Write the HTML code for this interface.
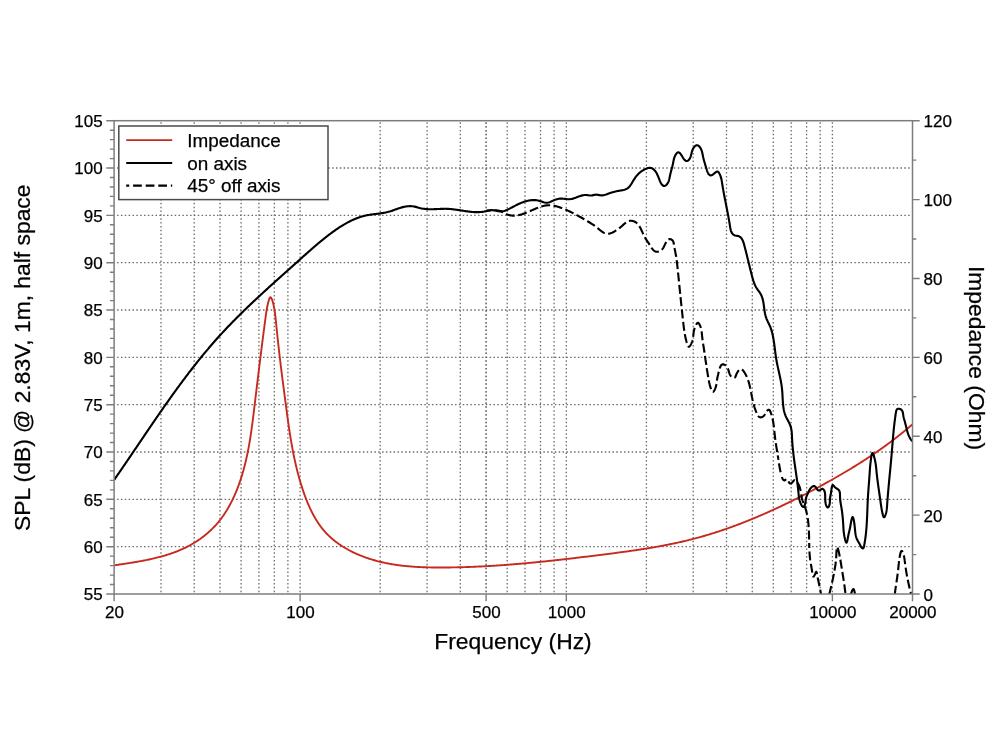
<!DOCTYPE html>
<html><head><meta charset="utf-8"><title>Frequency response</title>
<style>html,body{margin:0;padding:0;background:#fff;}svg{display:block;will-change:transform;}</style></head>
<body>
<svg width="1000" height="750" viewBox="0 0 1000 750">
<defs><clipPath id="c"><rect x="114.1" y="120.7" width="798.4" height="473.3"/></clipPath></defs>
<rect width="1000" height="750" fill="#fff"/>
<path d="M161.0 122.2 V593.0 M194.2 122.2 V593.0 M220.0 122.2 V593.0 M241.1 122.2 V593.0 M258.9 122.2 V593.0 M274.3 122.2 V593.0 M287.9 122.2 V593.0 M300.1 122.2 V593.0 M380.2 122.2 V593.0 M427.1 122.2 V593.0 M460.3 122.2 V593.0 M486.1 122.2 V593.0 M507.2 122.2 V593.0 M525.0 122.2 V593.0 M540.5 122.2 V593.0 M554.1 122.2 V593.0 M566.3 122.2 V593.0 M646.4 122.2 V593.0 M693.2 122.2 V593.0 M726.5 122.2 V593.0 M752.3 122.2 V593.0 M773.3 122.2 V593.0 M791.2 122.2 V593.0 M806.6 122.2 V593.0 M820.2 122.2 V593.0 M832.4 122.2 V593.0 M117.1 546.7 H910.5 M117.1 499.3 H910.5 M117.1 452.0 H910.5 M117.1 404.7 H910.5 M117.1 357.4 H910.5 M117.1 310.0 H910.5 M117.1 262.7 H910.5 M117.1 215.4 H910.5 M117.1 168.0 H910.5" fill="none" stroke="#6c6c6c" stroke-width="1.3" stroke-dasharray="1.5 2.34"/>
<path d="M486.1 122.2 V593.0" fill="none" stroke="#6c6c6c" stroke-width="1.3" stroke-dasharray="1.5 2.34" opacity="0.8"/>
<g clip-path="url(#c)" fill="none" stroke-linejoin="round" stroke-linecap="butt">
<path d="M114.60 565.26 115.56 565.12 116.52 564.98 117.48 564.84 118.45 564.70 119.41 564.55 120.38 564.41 121.35 564.27 122.32 564.12 123.30 563.98 124.27 563.83 125.25 563.68 126.22 563.53 127.20 563.38 128.18 563.23 129.17 563.08 130.15 562.92 131.13 562.77 132.12 562.61 133.10 562.45 134.09 562.28 135.08 562.12 136.06 561.95 137.05 561.78 138.04 561.61 139.03 561.43 140.02 561.25 141.00 561.07 141.99 560.89 142.98 560.70 143.97 560.51 144.96 560.32 145.95 560.12 146.94 559.92 147.92 559.72 148.91 559.51 149.90 559.30 150.88 559.08 151.87 558.86 152.85 558.64 153.83 558.41 154.81 558.18 155.79 557.94 156.77 557.70 157.75 557.45 158.73 557.20 159.70 556.95 160.67 556.69 161.64 556.42 162.61 556.15 163.58 555.87 164.55 555.59 165.51 555.30 166.47 555.01 167.43 554.71 168.39 554.40 169.34 554.09 170.29 553.78 171.24 553.45 172.19 553.12 173.13 552.79 174.07 552.44 175.01 552.09 175.94 551.74 176.87 551.38 177.80 551.01 178.73 550.63 179.65 550.24 180.57 549.85 181.48 549.45 182.39 549.05 183.30 548.63 184.20 548.21 185.10 547.78 186.00 547.34 186.89 546.90 187.78 546.44 188.66 545.98 189.54 545.51 190.41 545.03 191.28 544.55 192.14 544.05 193.00 543.55 193.86 543.04 194.71 542.52 195.55 541.99 196.39 541.45 197.23 540.91 198.06 540.36 198.88 539.80 199.70 539.23 200.51 538.66 201.31 538.07 202.11 537.48 202.91 536.88 203.70 536.27 204.48 535.66 205.25 535.04 206.02 534.41 206.78 533.77 207.54 533.12 208.29 532.47 209.03 531.81 209.76 531.14 210.49 530.47 211.21 529.78 211.92 529.09 212.63 528.39 213.33 527.69 214.02 526.97 214.70 526.25 215.37 525.52 216.04 524.79 216.70 524.05 217.35 523.30 217.99 522.54 218.62 521.78 219.25 521.00 219.87 520.23 220.48 519.44 221.08 518.65 221.68 517.85 222.26 517.05 222.84 516.24 223.41 515.42 223.98 514.60 224.53 513.77 225.08 512.94 225.62 512.10 226.16 511.26 226.68 510.41 227.20 509.55 227.72 508.69 228.22 507.83 228.72 506.96 229.21 506.08 229.70 505.20 230.18 504.32 230.65 503.43 231.11 502.54 231.57 501.65 232.02 500.75 232.46 499.84 232.90 498.94 233.33 498.03 233.76 497.11 234.18 496.20 234.59 495.28 235.00 494.35 235.40 493.43 235.79 492.50 236.18 491.56 236.56 490.63 236.94 489.69 237.31 488.76 237.68 487.81 238.04 486.87 238.39 485.93 238.74 484.98 239.08 484.03 239.42 483.08 239.75 482.13 240.08 481.18 240.40 480.22 240.71 479.27 241.02 478.31 241.33 477.36 241.63 476.40 241.93 475.44 242.22 474.48 242.50 473.52 242.79 472.56 243.06 471.60 243.33 470.64 243.60 469.68 243.86 468.72 244.12 467.75 244.38 466.79 244.63 465.82 244.87 464.85 245.12 463.89 245.35 462.92 245.59 461.95 245.82 460.98 246.04 460.01 246.26 459.04 246.48 458.07 246.70 457.10 246.91 456.13 247.12 455.16 247.32 454.18 247.52 453.21 247.72 452.23 247.91 451.26 248.10 450.28 248.29 449.31 248.48 448.33 248.66 447.35 248.84 446.37 249.01 445.40 249.19 444.42 249.36 443.44 249.53 442.46 249.69 441.48 249.86 440.50 250.02 439.52 250.17 438.53 250.33 437.55 250.48 436.57 250.64 435.59 250.79 434.60 250.93 433.62 251.08 432.63 251.22 431.65 251.36 430.66 251.50 429.68 251.64 428.69 251.78 427.71 251.92 426.72 252.05 425.73 252.18 424.75 252.31 423.76 252.44 422.77 252.57 421.78 252.70 420.80 252.83 419.81 252.95 418.82 253.08 417.83 253.20 416.84 253.32 415.85 253.44 414.86 253.57 413.87 253.69 412.88 253.81 411.89 253.93 410.90 254.05 409.91 254.17 408.92 254.29 407.92 254.40 406.93 254.52 405.94 254.64 404.95 254.76 403.96 254.88 402.97 255.00 401.97 255.12 400.98 255.24 399.99 255.36 399.00 255.47 398.00 255.59 397.01 255.71 396.02 255.83 395.03 255.95 394.03 256.07 393.04 256.19 392.05 256.31 391.05 256.43 390.06 256.55 389.07 256.67 388.07 256.79 387.08 256.91 386.09 257.03 385.09 257.15 384.10 257.27 383.11 257.39 382.11 257.51 381.12 257.63 380.13 257.75 379.13 257.87 378.14 258.00 377.14 258.12 376.15 258.24 375.16 258.36 374.16 258.48 373.17 258.60 372.18 258.72 371.18 258.85 370.19 258.97 369.20 259.09 368.20 259.21 367.21 259.34 366.21 259.46 365.22 259.58 364.23 259.70 363.23 259.83 362.24 259.95 361.25 260.07 360.25 260.20 359.26 260.32 358.27 260.44 357.27 260.57 356.28 260.69 355.29 260.82 354.30 260.94 353.30 261.06 352.31 261.19 351.32 261.31 350.33 261.44 349.33 261.56 348.34 261.69 347.35 261.81 346.36 261.94 345.36 262.07 344.37 262.19 343.38 262.32 342.39 262.44 341.40 262.57 340.41 262.70 339.42 262.83 338.42 262.95 337.43 263.08 336.44 263.21 335.45 263.33 334.46 263.46 333.47 263.59 332.48 263.72 331.49 263.85 330.50 263.98 329.51 264.11 328.52 264.23 327.54 264.36 326.55 264.49 325.56 264.62 324.57 264.75 323.58 264.88 322.59 265.01 321.61 265.15 320.62 265.28 319.63 265.41 318.64 265.54 317.66 265.67 316.67 265.80 315.68 265.94 314.70 266.08 313.71 266.23 312.72 266.38 311.74 266.53 310.75 266.70 309.76 266.87 308.77 267.06 307.77 267.25 306.78 267.46 305.79 267.68 304.79 267.91 303.79 268.16 302.79 268.42 301.79 268.71 300.78 269.01 299.77 269.33 298.79 269.67 297.94 270.05 297.36 270.46 297.19 270.90 297.49 271.36 298.14 271.79 299.03 272.19 300.01 272.53 301.02 272.83 302.03 273.10 303.06 273.34 304.08 273.57 305.09 273.78 306.11 273.99 307.12 274.18 308.12 274.36 309.12 274.52 310.12 274.68 311.12 274.83 312.11 274.97 313.11 275.11 314.10 275.23 315.08 275.35 316.07 275.47 317.05 275.58 318.04 275.68 319.02 275.79 320.00 275.88 320.98 275.98 321.96 276.08 322.94 276.17 323.92 276.27 324.90 276.37 325.88 276.46 326.87 276.56 327.85 276.66 328.83 276.76 329.82 276.86 330.80 276.96 331.79 277.06 332.77 277.16 333.76 277.27 334.75 277.37 335.73 277.48 336.72 277.58 337.71 277.69 338.70 277.79 339.69 277.90 340.68 278.01 341.67 278.12 342.66 278.23 343.65 278.34 344.64 278.45 345.63 278.56 346.63 278.67 347.62 278.79 348.61 278.90 349.61 279.01 350.60 279.13 351.59 279.24 352.59 279.36 353.58 279.48 354.58 279.59 355.57 279.71 356.57 279.83 357.56 279.95 358.56 280.07 359.56 280.19 360.55 280.30 361.55 280.43 362.54 280.55 363.54 280.67 364.54 280.79 365.54 280.91 366.53 281.03 367.53 281.16 368.53 281.28 369.53 281.40 370.52 281.53 371.52 281.65 372.52 281.78 373.52 281.90 374.51 282.03 375.51 282.15 376.51 282.28 377.51 282.41 378.51 282.53 379.50 282.66 380.50 282.79 381.50 282.92 382.50 283.04 383.49 283.17 384.49 283.30 385.49 283.43 386.49 283.56 387.48 283.69 388.48 283.82 389.48 283.95 390.47 284.08 391.47 284.21 392.47 284.34 393.46 284.47 394.46 284.60 395.45 284.73 396.45 284.86 397.44 284.99 398.44 285.12 399.43 285.25 400.43 285.38 401.42 285.51 402.41 285.65 403.41 285.78 404.40 285.91 405.39 286.04 406.38 286.17 407.37 286.30 408.37 286.43 409.36 286.57 410.35 286.70 411.34 286.83 412.33 286.97 413.32 287.10 414.31 287.23 415.29 287.37 416.28 287.50 417.27 287.64 418.26 287.78 419.25 287.91 420.23 288.05 421.22 288.19 422.20 288.33 423.19 288.47 424.17 288.62 425.16 288.76 426.14 288.90 427.13 289.05 428.11 289.19 429.10 289.34 430.08 289.49 431.06 289.64 432.04 289.79 433.02 289.95 434.01 290.10 434.99 290.26 435.97 290.42 436.95 290.58 437.93 290.74 438.91 290.90 439.89 291.06 440.86 291.23 441.84 291.40 442.82 291.57 443.80 291.74 444.77 291.92 445.75 292.09 446.73 292.27 447.70 292.45 448.68 292.63 449.65 292.82 450.63 293.01 451.60 293.20 452.58 293.39 453.55 293.58 454.52 293.78 455.50 293.98 456.47 294.18 457.44 294.39 458.41 294.59 459.38 294.80 460.35 295.02 461.32 295.23 462.29 295.45 463.26 295.67 464.23 295.90 465.20 296.13 466.17 296.36 467.13 296.59 468.10 296.83 469.07 297.07 470.04 297.31 471.00 297.56 471.97 297.81 472.93 298.06 473.90 298.32 474.86 298.58 475.83 298.85 476.79 299.11 477.75 299.38 478.71 299.66 479.68 299.94 480.64 300.22 481.60 300.51 482.56 300.80 483.52 301.09 484.48 301.39 485.44 301.69 486.40 302.00 487.36 302.31 488.32 302.63 489.28 302.95 490.23 303.27 491.19 303.60 492.15 303.93 493.10 304.27 494.06 304.61 495.01 304.96 495.96 305.31 496.91 305.66 497.86 306.03 498.81 306.39 499.76 306.77 500.70 307.15 501.64 307.53 502.58 307.92 503.51 308.32 504.44 308.72 505.37 309.13 506.30 309.54 507.22 309.96 508.14 310.39 509.05 310.82 509.96 311.26 510.87 311.71 511.77 312.17 512.67 312.63 513.56 313.10 514.45 313.58 515.33 314.06 516.21 314.55 517.08 315.05 517.94 315.56 518.80 316.07 519.66 316.60 520.50 317.13 521.35 317.67 522.18 318.22 523.01 318.77 523.83 319.34 524.64 319.92 525.45 320.50 526.25 321.09 527.04 321.69 527.82 322.30 528.59 322.92 529.36 323.55 530.12 324.19 530.87 324.84 531.61 325.50 532.34 326.17 533.06 326.85 533.78 327.54 534.48 328.24 535.18 328.94 535.86 329.66 536.54 330.38 537.21 331.12 537.87 331.86 538.52 332.61 539.16 333.37 539.80 334.13 540.42 334.91 541.04 335.69 541.65 336.48 542.25 337.28 542.84 338.08 543.42 338.89 544.00 339.71 544.56 340.54 545.12 341.37 545.67 342.21 546.21 343.05 546.75 343.90 547.27 344.76 547.79 345.62 548.30 346.49 548.80 347.36 549.29 348.24 549.77 349.13 550.25 350.01 550.72 350.91 551.18 351.81 551.63 352.71 552.08 353.62 552.52 354.53 552.95 355.44 553.37 356.36 553.78 357.28 554.19 358.21 554.59 359.14 554.98 360.07 555.37 361.01 555.74 361.95 556.11 362.89 556.48 363.83 556.83 364.78 557.18 365.73 557.52 366.68 557.85 367.63 558.18 368.58 558.50 369.54 558.81 370.50 559.11 371.45 559.41 372.41 559.70 373.37 559.99 374.34 560.26 375.30 560.53 376.26 560.80 377.23 561.06 378.20 561.31 379.16 561.55 380.13 561.79 381.10 562.02 382.07 562.25 383.05 562.47 384.02 562.68 384.99 562.89 385.97 563.09 386.95 563.29 387.92 563.48 388.90 563.66 389.88 563.84 390.86 564.02 391.84 564.19 392.82 564.35 393.81 564.51 394.79 564.66 395.77 564.81 396.76 564.95 397.74 565.09 398.73 565.22 399.72 565.35 400.71 565.48 401.70 565.60 402.68 565.71 403.67 565.82 404.67 565.93 405.66 566.03 406.65 566.13 407.64 566.22 408.63 566.31 409.63 566.39 410.62 566.48 411.62 566.55 412.61 566.63 413.61 566.70 414.60 566.77 415.60 566.83 416.60 566.89 417.59 566.94 418.59 567.00 419.59 567.05 420.59 567.10 421.59 567.14 422.59 567.18 423.58 567.22 424.58 567.25 425.58 567.29 426.58 567.32 427.58 567.34 428.58 567.37 429.59 567.39 430.59 567.41 431.59 567.43 432.59 567.44 433.59 567.46 434.59 567.47 435.59 567.48 436.59 567.49 437.59 567.49 438.59 567.50 439.59 567.50 440.60 567.50 441.60 567.50 442.60 567.50 443.60 567.49 444.60 567.49 445.60 567.48 446.60 567.48 447.60 567.47 448.60 567.46 449.60 567.45 450.60 567.43 451.60 567.42 452.60 567.40 453.60 567.39 454.60 567.37 455.60 567.35 456.60 567.33 457.60 567.31 458.60 567.29 459.60 567.26 460.60 567.24 461.60 567.21 462.60 567.18 463.60 567.15 464.59 567.12 465.59 567.09 466.59 567.06 467.59 567.02 468.59 566.99 469.59 566.95 470.59 566.92 471.58 566.88 472.58 566.84 473.58 566.80 474.58 566.75 475.58 566.71 476.58 566.67 477.57 566.62 478.57 566.57 479.57 566.53 480.57 566.48 481.56 566.43 482.56 566.38 483.56 566.33 484.56 566.27 485.55 566.22 486.55 566.16 487.55 566.11 488.55 566.05 489.54 565.99 490.54 565.93 491.54 565.87 492.53 565.81 493.53 565.75 494.53 565.69 495.52 565.62 496.52 565.56 497.52 565.49 498.51 565.42 499.51 565.36 500.51 565.29 501.50 565.22 502.50 565.15 503.50 565.08 504.49 565.00 505.49 564.93 506.48 564.86 507.48 564.78 508.48 564.70 509.47 564.63 510.47 564.55 511.46 564.47 512.46 564.39 513.45 564.31 514.45 564.23 515.44 564.15 516.44 564.06 517.44 563.98 518.43 563.90 519.43 563.81 520.42 563.73 521.42 563.64 522.41 563.55 523.41 563.46 524.40 563.37 525.40 563.28 526.39 563.19 527.39 563.10 528.38 563.01 529.37 562.92 530.37 562.82 531.36 562.73 532.36 562.63 533.35 562.54 534.35 562.44 535.34 562.35 536.34 562.25 537.33 562.15 538.32 562.05 539.32 561.95 540.31 561.85 541.31 561.75 542.30 561.65 543.30 561.55 544.29 561.44 545.28 561.34 546.28 561.24 547.27 561.13 548.27 561.03 549.26 560.92 550.25 560.82 551.25 560.71 552.24 560.60 553.23 560.49 554.23 560.39 555.22 560.28 556.21 560.17 557.21 560.06 558.20 559.95 559.19 559.84 560.19 559.73 561.18 559.61 562.17 559.50 563.17 559.39 564.16 559.28 565.15 559.16 566.15 559.05 567.14 558.93 568.13 558.82 569.13 558.70 570.12 558.59 571.11 558.47 572.11 558.36 573.10 558.24 574.09 558.12 575.09 558.00 576.08 557.89 577.07 557.77 578.06 557.65 579.06 557.53 580.05 557.41 581.04 557.29 582.04 557.17 583.03 557.05 584.02 556.93 585.01 556.81 586.01 556.69 587.00 556.57 587.99 556.44 588.98 556.32 589.98 556.20 590.97 556.08 591.96 555.96 592.95 555.83 593.95 555.71 594.94 555.59 595.93 555.46 596.92 555.34 597.92 555.21 598.91 555.09 599.90 554.97 600.89 554.84 601.89 554.72 602.88 554.59 603.87 554.47 604.86 554.34 605.85 554.22 606.85 554.09 607.84 553.96 608.83 553.84 609.82 553.71 610.82 553.58 611.81 553.45 612.80 553.32 613.79 553.20 614.78 553.07 615.77 552.94 616.76 552.81 617.76 552.67 618.75 552.54 619.74 552.41 620.73 552.28 621.72 552.14 622.71 552.01 623.70 551.87 624.69 551.74 625.68 551.60 626.67 551.46 627.66 551.33 628.65 551.19 629.64 551.05 630.63 550.91 631.62 550.76 632.61 550.62 633.60 550.48 634.58 550.33 635.57 550.19 636.56 550.04 637.55 549.89 638.54 549.74 639.52 549.59 640.51 549.44 641.50 549.29 642.48 549.14 643.47 548.98 644.45 548.82 645.44 548.67 646.43 548.51 647.41 548.35 648.40 548.19 649.38 548.03 650.36 547.86 651.35 547.70 652.33 547.53 653.31 547.36 654.30 547.19 655.28 547.02 656.26 546.85 657.24 546.67 658.23 546.50 659.21 546.32 660.19 546.14 661.17 545.96 662.15 545.78 663.13 545.59 664.11 545.41 665.09 545.22 666.06 545.03 667.04 544.84 668.02 544.64 669.00 544.45 669.97 544.25 670.95 544.05 671.92 543.85 672.90 543.65 673.88 543.45 674.85 543.24 675.82 543.03 676.80 542.82 677.77 542.61 678.74 542.39 679.72 542.18 680.69 541.96 681.66 541.73 682.63 541.51 683.60 541.29 684.57 541.06 685.54 540.83 686.51 540.60 687.47 540.36 688.44 540.12 689.41 539.88 690.37 539.64 691.34 539.40 692.31 539.15 693.27 538.90 694.23 538.65 695.20 538.40 696.16 538.14 697.12 537.88 698.08 537.62 699.05 537.36 700.01 537.09 700.97 536.82 701.93 536.55 702.88 536.28 703.84 536.00 704.80 535.72 705.76 535.44 706.71 535.16 707.67 534.87 708.63 534.59 709.58 534.30 710.53 534.01 711.49 533.71 712.44 533.42 713.39 533.12 714.35 532.82 715.30 532.51 716.25 532.21 717.20 531.90 718.15 531.59 719.10 531.28 720.04 530.96 720.99 530.65 721.94 530.33 722.89 530.01 723.83 529.69 724.78 529.36 725.72 529.04 726.67 528.71 727.61 528.38 728.55 528.04 729.49 527.71 730.44 527.37 731.38 527.03 732.32 526.69 733.26 526.35 734.20 526.00 735.13 525.66 736.07 525.31 737.01 524.96 737.95 524.61 738.88 524.25 739.82 523.89 740.75 523.54 741.69 523.18 742.62 522.81 743.55 522.45 744.49 522.08 745.42 521.72 746.35 521.35 747.28 520.98 748.21 520.60 749.14 520.23 750.07 519.85 751.00 519.47 751.92 519.09 752.85 518.71 753.78 518.33 754.70 517.94 755.63 517.56 756.55 517.17 757.48 516.78 758.40 516.39 759.32 515.99 760.24 515.60 761.16 515.20 762.08 514.80 763.00 514.40 763.92 514.00 764.84 513.60 765.76 513.19 766.68 512.79 767.59 512.38 768.51 511.97 769.43 511.56 770.34 511.15 771.25 510.73 772.17 510.32 773.08 509.90 773.99 509.48 774.90 509.06 775.82 508.64 776.73 508.22 777.64 507.80 778.54 507.37 779.45 506.94 780.36 506.52 781.27 506.09 782.17 505.66 783.08 505.22 783.99 504.79 784.89 504.35 785.79 503.92 786.70 503.48 787.60 503.04 788.50 502.60 789.40 502.16 790.30 501.72 791.20 501.28 792.10 500.83 793.00 500.39 793.90 499.94 794.80 499.49 795.69 499.04 796.59 498.59 797.48 498.14 798.38 497.69 799.27 497.23 800.16 496.78 801.06 496.32 801.95 495.86 802.84 495.41 803.73 494.95 804.62 494.49 805.51 494.02 806.40 493.56 807.29 493.10 808.17 492.63 809.06 492.17 809.95 491.70 810.83 491.23 811.72 490.77 812.60 490.30 813.48 489.83 814.36 489.36 815.25 488.88 816.13 488.41 817.01 487.94 817.89 487.46 818.77 486.99 819.65 486.51 820.52 486.03 821.40 485.56 822.28 485.08 823.15 484.60 824.03 484.12 824.90 483.64 825.77 483.15 826.65 482.67 827.52 482.19 828.39 481.70 829.26 481.21 830.13 480.73 831.00 480.24 831.87 479.75 832.74 479.26 833.60 478.77 834.47 478.28 835.33 477.78 836.20 477.29 837.06 476.79 837.92 476.30 838.79 475.80 839.65 475.30 840.51 474.80 841.37 474.30 842.23 473.80 843.08 473.29 843.94 472.79 844.80 472.28 845.65 471.77 846.51 471.27 847.36 470.76 848.21 470.24 849.07 469.73 849.92 469.22 850.77 468.70 851.62 468.19 852.47 467.67 853.31 467.15 854.16 466.63 855.01 466.10 855.85 465.58 856.69 465.05 857.54 464.53 858.38 464.00 859.22 463.47 860.06 462.94 860.90 462.41 861.74 461.87 862.58 461.33 863.41 460.80 864.25 460.26 865.08 459.72 865.92 459.17 866.75 458.63 867.58 458.08 868.41 457.54 869.24 456.99 870.07 456.44 870.90 455.88 871.72 455.33 872.55 454.77 873.37 454.21 874.20 453.65 875.02 453.09 875.84 452.53 876.66 451.96 877.48 451.40 878.30 450.83 879.12 450.26 879.93 449.68 880.75 449.11 881.56 448.53 882.38 447.95 883.19 447.37 884.00 446.79 884.81 446.20 885.62 445.62 886.42 445.03 887.23 444.44 888.04 443.85 888.84 443.25 889.64 442.65 890.44 442.05 891.25 441.45 892.04 440.85 892.84 440.24 893.64 439.64 894.44 439.03 895.23 438.41 896.02 437.80 896.82 437.18 897.61 436.56 898.40 435.94 899.19 435.32 899.98 434.69 900.76 434.06 901.55 433.43 902.33 432.80 903.11 432.17 903.90 431.53 904.68 430.89 905.46 430.25 906.23 429.60 907.01 428.95 907.79 428.30 908.56 427.65 909.33 427.00 910.10 426.34 910.87 425.68 911.64 425.02 912.41 424.35" stroke="#c62a1f" stroke-width="1.9"/>
<path d="M485.99 210.81 486.49 210.76 486.98 210.72 487.48 210.68 487.98 210.63 488.48 210.58 488.98 210.54 489.49 210.49 489.99 210.45 490.49 210.41 491.00 210.37 491.50 210.34 492.01 210.31 492.51 210.28 493.02 210.26 493.52 210.25 494.03 210.24 494.53 210.24 495.03 210.25 495.53 210.27 496.03 210.30 496.52 210.34 497.02 210.39 497.51 210.45 498.00 210.53 498.48 210.61 498.97 210.72 499.45 210.83 499.92 210.96 500.40 211.11 500.87 211.27 501.33 211.45 501.80 211.65 502.26 211.86 502.71 212.09 503.16 212.32 503.61 212.57 504.06 212.81 504.51 213.06 504.96 213.31 505.41 213.55 505.86 213.78 506.32 214.01 506.77 214.22 507.23 214.41 507.70 214.59 508.16 214.75 508.63 214.90 509.10 215.03 509.57 215.15 510.04 215.25 510.52 215.34 511.00 215.42 511.48 215.48 511.96 215.54 512.44 215.57 512.93 215.60 513.42 215.62 513.90 215.62 514.39 215.61 514.88 215.59 515.37 215.56 515.86 215.52 516.35 215.47 516.84 215.41 517.33 215.34 517.82 215.26 518.32 215.18 518.81 215.08 519.30 214.98 519.79 214.86 520.28 214.74 520.77 214.62 521.25 214.48 521.74 214.34 522.23 214.19 522.71 214.04 523.19 213.88 523.68 213.71 524.16 213.54 524.64 213.37 525.12 213.19 525.59 213.00 526.07 212.81 526.55 212.62 527.02 212.43 527.50 212.23 527.97 212.03 528.45 211.82 528.92 211.62 529.39 211.41 529.86 211.20 530.34 210.99 530.81 210.78 531.28 210.57 531.75 210.36 532.22 210.15 532.69 209.94 533.15 209.73 533.62 209.52 534.09 209.31 534.56 209.10 535.03 208.90 535.50 208.70 535.96 208.50 536.43 208.30 536.90 208.11 537.37 207.92 537.84 207.73 538.31 207.55 538.77 207.38 539.24 207.20 539.71 207.04 540.18 206.88 540.65 206.72 541.12 206.57 541.59 206.43 542.06 206.29 542.54 206.16 543.01 206.04 543.48 205.92 543.95 205.82 544.43 205.72 544.90 205.63 545.38 205.55 545.86 205.48 546.33 205.42 546.81 205.37 547.29 205.32 547.77 205.29 548.25 205.27 548.73 205.26 549.22 205.26 549.70 205.27 550.18 205.29 550.67 205.32 551.16 205.36 551.64 205.41 552.13 205.47 552.62 205.54 553.10 205.61 553.59 205.70 554.08 205.79 554.56 205.88 555.05 205.99 555.54 206.10 556.03 206.22 556.51 206.35 557.00 206.48 557.49 206.62 557.97 206.76 558.46 206.91 558.94 207.06 559.42 207.22 559.91 207.38 560.39 207.55 560.87 207.72 561.35 207.90 561.83 208.08 562.31 208.26 562.78 208.45 563.26 208.63 563.73 208.82 564.20 209.02 564.67 209.21 565.14 209.41 565.61 209.61 566.07 209.81 566.54 210.01 567.00 210.21 567.46 210.42 567.92 210.63 568.38 210.84 568.84 211.05 569.29 211.27 569.75 211.48 570.20 211.70 570.66 211.92 571.11 212.14 571.56 212.36 572.01 212.58 572.45 212.81 572.90 213.03 573.35 213.26 573.79 213.49 574.23 213.72 574.68 213.95 575.12 214.18 575.56 214.42 576.00 214.65 576.44 214.89 576.87 215.13 577.31 215.36 577.75 215.60 578.18 215.84 578.61 216.08 579.05 216.32 579.48 216.56 579.91 216.81 580.34 217.05 580.77 217.29 581.20 217.54 581.63 217.78 582.06 218.03 582.48 218.27 582.91 218.52 583.33 218.77 583.76 219.01 584.18 219.26 584.61 219.51 585.03 219.76 585.45 220.01 585.87 220.25 586.30 220.50 586.72 220.75 587.14 221.00 587.56 221.25 587.98 221.50 588.40 221.75 588.82 222.00 589.23 222.25 589.65 222.51 590.07 222.76 590.48 223.02 590.90 223.28 591.32 223.55 591.73 223.82 592.15 224.09 592.56 224.36 592.97 224.64 593.39 224.92 593.80 225.20 594.21 225.49 594.62 225.79 595.03 226.08 595.44 226.39 595.85 226.70 596.26 227.01 596.67 227.33 597.08 227.65 597.49 227.99 597.89 228.32 598.30 228.66 598.71 229.01 599.12 229.35 599.52 229.69 599.93 230.03 600.34 230.36 600.75 230.69 601.17 231.01 601.58 231.32 602.00 231.62 602.42 231.91 602.84 232.19 603.26 232.44 603.69 232.69 604.12 232.91 604.56 233.11 605.00 233.29 605.44 233.44 605.89 233.57 606.34 233.68 606.79 233.75 607.26 233.79 607.72 233.81 608.19 233.79 608.67 233.73 609.15 233.65 609.64 233.54 610.12 233.40 610.61 233.25 611.09 233.07 611.58 232.87 612.06 232.66 612.53 232.44 613.01 232.20 613.47 231.96 613.93 231.72 614.38 231.47 614.82 231.21 615.26 230.96 615.69 230.70 616.11 230.44 616.52 230.18 616.93 229.91 617.34 229.64 617.74 229.36 618.14 229.08 618.53 228.79 618.92 228.50 619.31 228.21 619.70 227.90 620.08 227.60 620.47 227.28 620.85 226.96 621.24 226.64 621.62 226.30 622.01 225.96 622.40 225.61 622.79 225.26 623.19 224.90 623.59 224.54 623.99 224.17 624.39 223.82 624.80 223.47 625.21 223.13 625.63 222.80 626.05 222.48 626.48 222.19 626.91 221.92 627.35 221.66 627.80 221.44 628.25 221.25 628.71 221.08 629.17 220.96 629.64 220.86 630.11 220.79 630.59 220.76 631.06 220.76 631.54 220.78 632.01 220.84 632.48 220.92 632.94 221.02 633.40 221.16 633.85 221.32 634.29 221.50 634.72 221.70 635.14 221.93 635.55 222.18 635.94 222.44 636.32 222.73 636.69 223.04 637.05 223.36 637.39 223.70 637.72 224.06 638.04 224.43 638.36 224.81 638.66 225.21 638.95 225.62 639.23 226.04 639.51 226.47 639.78 226.91 640.04 227.36 640.30 227.82 640.54 228.29 640.79 228.76 641.03 229.23 641.26 229.72 641.49 230.20 641.71 230.69 641.94 231.17 642.16 231.66 642.38 232.15 642.59 232.64 642.81 233.12 643.02 233.60 643.24 234.08 643.45 234.56 643.67 235.02 643.89 235.49 644.11 235.94 644.33 236.39 644.56 236.82 644.79 237.25 645.02 237.67 645.26 238.07 645.50 238.47 645.74 238.86 645.99 239.25 646.24 239.63 646.50 240.02 646.75 240.40 647.01 240.78 647.28 241.16 647.55 241.55 647.81 241.95 648.09 242.35 648.36 242.76 648.64 243.18 648.92 243.62 649.20 244.06 649.48 244.52 649.77 244.99 650.06 245.46 650.35 245.94 650.65 246.41 650.95 246.88 651.26 247.35 651.57 247.81 651.89 248.26 652.21 248.70 652.55 249.11 652.89 249.51 653.24 249.89 653.59 250.24 653.96 250.56 654.33 250.85 654.72 251.10 655.12 251.32 655.52 251.50 655.94 251.64 656.37 251.73 656.81 251.78 657.27 251.78 657.72 251.73 658.19 251.64 658.65 251.51 659.11 251.35 659.57 251.15 660.02 250.92 660.46 250.66 660.88 250.38 661.29 250.07 661.68 249.74 662.04 249.39 662.37 249.02 662.69 248.64 662.97 248.25 663.24 247.84 663.50 247.42 663.74 246.99 663.97 246.54 664.19 246.08 664.41 245.62 664.64 245.14 664.86 244.65 665.10 244.15 665.34 243.64 665.59 243.14 665.86 242.64 666.13 242.15 666.41 241.68 666.71 241.23 667.02 240.81 667.34 240.42 667.68 240.07 668.04 239.77 668.40 239.51 668.79 239.31 669.19 239.18 669.61 239.11 670.05 239.11 670.51 239.19 670.97 239.33 671.41 239.54 671.84 239.81 672.23 240.12 672.58 240.48 672.87 240.87 673.11 241.30 673.31 241.76 673.47 242.23 673.61 242.73 673.72 243.24 673.81 243.76 673.89 244.29 673.96 244.82 674.04 245.34 674.12 245.86 674.21 246.37 674.30 246.88 674.39 247.39 674.48 247.89 674.58 248.39 674.68 248.88 674.78 249.37 674.88 249.86 674.97 250.35 675.07 250.84 675.17 251.32 675.27 251.81 675.37 252.29 675.46 252.78 675.56 253.26 675.65 253.75 675.74 254.23 675.82 254.72 675.91 255.21 675.99 255.70 676.07 256.18 676.15 256.67 676.23 257.16 676.30 257.65 676.38 258.14 676.45 258.63 676.52 259.12 676.59 259.62 676.66 260.11 676.72 260.60 676.79 261.09 676.85 261.59 676.91 262.08 676.97 262.57 677.03 263.07 677.09 263.56 677.15 264.06 677.21 264.55 677.26 265.05 677.32 265.54 677.37 266.04 677.42 266.53 677.48 267.03 677.53 267.53 677.58 268.02 677.63 268.52 677.68 269.02 677.74 269.51 677.79 270.01 677.84 270.51 677.89 271.01 677.94 271.50 677.99 272.00 678.04 272.50 678.09 273.00 678.14 273.50 678.19 273.99 678.24 274.49 678.29 274.99 678.34 275.49 678.39 275.99 678.44 276.48 678.49 276.98 678.54 277.48 678.59 277.98 678.64 278.48 678.69 278.98 678.74 279.48 678.79 279.97 678.84 280.47 678.89 280.97 678.94 281.47 678.99 281.97 679.04 282.47 679.09 282.97 679.14 283.47 679.19 283.96 679.24 284.46 679.29 284.96 679.34 285.46 679.39 285.96 679.44 286.46 679.49 286.96 679.54 287.46 679.59 287.96 679.64 288.46 679.69 288.95 679.74 289.45 679.79 289.95 679.84 290.45 679.89 290.95 679.94 291.45 680.00 291.95 680.05 292.45 680.10 292.94 680.15 293.44 680.20 293.94 680.25 294.44 680.30 294.94 680.35 295.44 680.40 295.94 680.46 296.43 680.51 296.93 680.56 297.43 680.61 297.93 680.66 298.43 680.71 298.93 680.76 299.42 680.82 299.92 680.87 300.42 680.92 300.92 680.97 301.41 681.02 301.91 681.07 302.41 681.13 302.91 681.18 303.40 681.23 303.90 681.28 304.40 681.34 304.90 681.39 305.39 681.44 305.89 681.49 306.39 681.55 306.88 681.60 307.38 681.65 307.88 681.70 308.37 681.76 308.87 681.81 309.36 681.86 309.86 681.92 310.36 681.97 310.85 682.02 311.35 682.08 311.84 682.13 312.34 682.18 312.83 682.24 313.33 682.29 313.82 682.34 314.32 682.40 314.81 682.45 315.31 682.50 315.80 682.56 316.29 682.61 316.79 682.67 317.28 682.72 317.78 682.78 318.27 682.83 318.76 682.89 319.25 682.94 319.75 683.00 320.24 683.05 320.73 683.11 321.22 683.16 321.72 683.22 322.21 683.27 322.70 683.33 323.19 683.38 323.68 683.44 324.17 683.49 324.67 683.55 325.16 683.61 325.65 683.67 326.14 683.72 326.63 683.78 327.12 683.84 327.61 683.91 328.10 683.97 328.59 684.03 329.08 684.10 329.58 684.17 330.07 684.23 330.56 684.31 331.05 684.38 331.55 684.45 332.04 684.53 332.53 684.61 333.03 684.70 333.52 684.78 334.02 684.87 334.52 684.96 335.01 685.05 335.51 685.15 336.01 685.25 336.51 685.36 337.01 685.47 337.51 685.58 338.02 685.69 338.52 685.81 339.02 685.93 339.53 686.06 340.04 686.19 340.54 686.33 341.05 686.47 341.57 686.62 342.08 686.77 342.59 686.92 343.10 687.08 343.62 687.25 344.14 687.42 344.66 687.60 345.16 687.79 345.63 687.98 346.05 688.20 346.39 688.42 346.64 688.67 346.79 688.93 346.80 689.22 346.67 689.51 346.44 689.82 346.11 690.13 345.69 690.44 345.21 690.74 344.68 691.03 344.12 691.31 343.54 691.57 342.96 691.80 342.39 692.01 341.84 692.20 341.30 692.37 340.77 692.52 340.25 692.66 339.74 692.78 339.24 692.88 338.74 692.97 338.26 693.06 337.78 693.13 337.31 693.19 336.85 693.25 336.39 693.30 335.93 693.35 335.48 693.39 335.03 693.44 334.59 693.48 334.14 693.53 333.69 693.58 333.25 693.63 332.80 693.69 332.35 693.76 331.90 693.83 331.44 693.91 330.98 694.01 330.51 694.12 330.04 694.24 329.56 694.37 329.07 694.52 328.57 694.69 328.05 694.87 327.53 695.07 327.00 695.30 326.45 695.55 325.88 695.82 325.31 696.10 324.75 696.41 324.22 696.72 323.75 697.05 323.35 697.37 323.05 697.70 322.87 698.03 322.84 698.36 322.96 698.67 323.22 698.98 323.58 699.27 324.04 699.55 324.55 699.81 325.09 700.05 325.65 700.27 326.19 700.47 326.73 700.66 327.26 700.82 327.78 700.97 328.29 701.10 328.79 701.22 329.30 701.33 329.79 701.42 330.28 701.51 330.77 701.58 331.25 701.65 331.73 701.71 332.20 701.76 332.68 701.81 333.15 701.86 333.62 701.91 334.09 701.95 334.56 701.99 335.03 702.04 335.51 702.09 335.98 702.14 336.46 702.19 336.94 702.24 337.41 702.30 337.90 702.36 338.38 702.42 338.86 702.48 339.35 702.55 339.83 702.62 340.32 702.68 340.81 702.75 341.30 702.82 341.79 702.90 342.28 702.97 342.77 703.04 343.27 703.12 343.76 703.19 344.26 703.27 344.75 703.35 345.25 703.42 345.75 703.50 346.25 703.58 346.74 703.66 347.24 703.74 347.74 703.81 348.24 703.89 348.74 703.97 349.24 704.04 349.74 704.12 350.24 704.20 350.74 704.27 351.24 704.35 351.74 704.42 352.24 704.49 352.74 704.57 353.24 704.64 353.74 704.72 354.24 704.79 354.74 704.86 355.25 704.94 355.75 705.01 356.25 705.08 356.75 705.15 357.25 705.23 357.75 705.30 358.25 705.37 358.75 705.44 359.25 705.51 359.75 705.59 360.24 705.66 360.74 705.73 361.24 705.80 361.74 705.88 362.24 705.95 362.74 706.02 363.23 706.09 363.73 706.17 364.23 706.24 364.72 706.31 365.22 706.39 365.72 706.46 366.21 706.53 366.71 706.61 367.20 706.68 367.69 706.76 368.19 706.83 368.68 706.91 369.17 706.98 369.67 707.06 370.16 707.14 370.65 707.21 371.14 707.29 371.63 707.37 372.12 707.45 372.60 707.53 373.09 707.61 373.58 707.69 374.06 707.77 374.55 707.85 375.03 707.93 375.52 708.01 376.00 708.10 376.48 708.18 376.96 708.26 377.45 708.35 377.92 708.43 378.40 708.52 378.88 708.61 379.36 708.70 379.84 708.79 380.31 708.88 380.79 708.97 381.26 709.06 381.73 709.15 382.21 709.25 382.68 709.35 383.16 709.46 383.64 709.57 384.12 709.69 384.61 709.81 385.10 709.95 385.60 710.09 386.10 710.24 386.61 710.40 387.13 710.57 387.66 710.76 388.20 710.95 388.74 711.17 389.30 711.39 389.86 711.63 390.40 711.88 390.90 712.14 391.32 712.41 391.65 712.69 391.85 712.98 391.91 713.28 391.81 713.58 391.56 713.88 391.20 714.17 390.75 714.45 390.23 714.72 389.68 714.98 389.10 715.20 388.54 715.41 387.98 715.60 387.44 715.77 386.91 715.92 386.39 716.05 385.87 716.17 385.37 716.28 384.88 716.38 384.39 716.46 383.91 716.54 383.43 716.61 382.96 716.68 382.50 716.74 382.04 716.80 381.58 716.86 381.13 716.92 380.68 716.98 380.23 717.04 379.78 717.11 379.33 717.19 378.88 717.26 378.43 717.35 377.98 717.43 377.53 717.52 377.07 717.62 376.61 717.72 376.14 717.82 375.67 717.93 375.19 718.04 374.71 718.16 374.22 718.27 373.72 718.40 373.21 718.53 372.70 718.66 372.17 718.79 371.64 718.93 371.09 719.07 370.53 719.22 369.97 719.38 369.41 719.54 368.84 719.71 368.29 719.89 367.76 720.09 367.24 720.30 366.75 720.52 366.28 720.76 365.86 721.02 365.47 721.30 365.13 721.60 364.84 721.92 364.61 722.26 364.44 722.63 364.34 723.03 364.30 723.45 364.35 723.90 364.47 724.36 364.66 724.82 364.91 725.27 365.20 725.70 365.53 726.11 365.89 726.47 366.28 726.80 366.68 727.09 367.10 727.36 367.53 727.59 367.98 727.81 368.43 728.00 368.90 728.18 369.38 728.34 369.86 728.50 370.35 728.64 370.84 728.79 371.33 728.93 371.82 729.08 372.31 729.24 372.80 729.40 373.28 729.58 373.75 729.78 374.21 730.00 374.66 730.25 375.10 730.52 375.52 730.82 375.93 731.17 376.32 731.55 376.68 731.97 377.03 732.43 377.34 732.92 377.61 733.41 377.81 733.87 377.91 734.28 377.90 734.63 377.76 734.93 377.52 735.19 377.18 735.43 376.77 735.64 376.30 735.84 375.78 736.05 375.23 736.26 374.67 736.49 374.11 736.74 373.55 737.01 373.00 737.29 372.47 737.59 371.96 737.90 371.48 738.22 371.03 738.56 370.62 738.90 370.25 739.25 369.92 739.60 369.65 739.96 369.43 740.32 369.28 740.68 369.19 741.04 369.18 741.39 369.24 741.75 369.38 742.09 369.59 742.44 369.87 742.77 370.19 743.11 370.56 743.43 370.97 743.75 371.40 744.05 371.85 744.35 372.30 744.64 372.76 744.92 373.22 745.19 373.68 745.45 374.14 745.70 374.61 745.94 375.07 746.18 375.54 746.41 376.00 746.63 376.47 746.84 376.94 747.04 377.41 747.24 377.89 747.43 378.36 747.61 378.83 747.79 379.31 747.96 379.78 748.13 380.26 748.29 380.74 748.44 381.22 748.59 381.69 748.74 382.17 748.88 382.65 749.01 383.13 749.15 383.62 749.27 384.10 749.40 384.58 749.52 385.06 749.63 385.54 749.75 386.03 749.86 386.51 749.97 386.99 750.07 387.48 750.18 387.96 750.28 388.45 750.38 388.93 750.48 389.41 750.58 389.90 750.68 390.38 750.78 390.87 750.87 391.35 750.97 391.83 751.07 392.32 751.16 392.80 751.26 393.28 751.35 393.77 751.45 394.25 751.54 394.73 751.64 395.22 751.74 395.70 751.83 396.19 751.93 396.67 752.03 397.15 752.13 397.64 752.23 398.12 752.34 398.61 752.44 399.09 752.55 399.57 752.65 400.06 752.76 400.54 752.88 401.03 752.99 401.51 753.11 402.00 753.22 402.48 753.34 402.97 753.47 403.45 753.59 403.94 753.72 404.42 753.86 404.91 753.99 405.39 754.13 405.88 754.27 406.37 754.42 406.85 754.57 407.34 754.72 407.83 754.88 408.31 755.04 408.80 755.21 409.29 755.38 409.77 755.55 410.26 755.73 410.75 755.91 411.24 756.10 411.73 756.30 412.22 756.50 412.71 756.70 413.20 756.91 413.68 757.13 414.17 757.36 414.64 757.60 415.09 757.85 415.51 758.13 415.91 758.42 416.27 758.73 416.59 759.07 416.86 759.43 417.07 759.83 417.23 760.25 417.32 760.70 417.34 761.19 417.28 761.70 417.15 762.22 416.96 762.71 416.71 763.17 416.42 763.57 416.09 763.91 415.74 764.19 415.36 764.42 414.96 764.63 414.54 764.83 414.11 765.02 413.65 765.24 413.18 765.49 412.70 765.78 412.20 766.14 411.70 766.56 411.21 767.02 410.74 767.50 410.34 767.98 410.02 768.43 409.81 768.85 409.73 769.21 409.81 769.51 410.02 769.77 410.35 770.00 410.75 770.20 411.20 770.40 411.66 770.58 412.13 770.76 412.60 770.93 413.06 771.10 413.54 771.26 414.01 771.42 414.48 771.57 414.96 771.71 415.44 771.85 415.91 771.98 416.39 772.11 416.88 772.23 417.36 772.35 417.84 772.47 418.33 772.58 418.81 772.68 419.30 772.78 419.79 772.88 420.28 772.97 420.77 773.06 421.26 773.15 421.75 773.23 422.24 773.31 422.74 773.39 423.23 773.46 423.73 773.53 424.22 773.60 424.72 773.67 425.22 773.74 425.71 773.80 426.21 773.86 426.71 773.92 427.21 773.98 427.71 774.03 428.21 774.09 428.71 774.14 429.21 774.19 429.71 774.25 430.21 774.30 430.71 774.35 431.21 774.40 431.71 774.45 432.21 774.51 432.71 774.56 433.21 774.61 433.71 774.66 434.21 774.72 434.71 774.77 435.20 774.83 435.70 774.88 436.20 774.94 436.70 775.00 437.20 775.06 437.69 775.13 438.19 775.19 438.69 775.25 439.18 775.32 439.68 775.39 440.17 775.45 440.67 775.52 441.16 775.59 441.65 775.66 442.15 775.73 442.64 775.81 443.13 775.88 443.63 775.95 444.12 776.03 444.61 776.10 445.11 776.18 445.60 776.25 446.09 776.33 446.58 776.41 447.08 776.49 447.57 776.56 448.06 776.64 448.55 776.72 449.04 776.80 449.53 776.88 450.03 776.96 450.52 777.04 451.01 777.12 451.50 777.20 451.99 777.28 452.49 777.36 452.98 777.43 453.47 777.51 453.96 777.59 454.46 777.67 454.95 777.75 455.44 777.83 455.94 777.91 456.43 777.98 456.92 778.06 457.42 778.14 457.91 778.21 458.41 778.29 458.90 778.37 459.40 778.44 459.89" stroke="#000" stroke-width="2.12" stroke-dasharray="9 3.4" stroke-dashoffset="4.01"/>
<path d="M778.97 463.36 779.05 463.85 779.13 464.35 779.21 464.84 779.29 465.34 779.38 465.83 779.46 466.33 779.55 466.82 779.63 467.31 779.72 467.81 779.81 468.30 779.91 468.79 780.00 469.28 780.10 469.77 780.20 470.26 780.30 470.75 780.41 471.23 780.51 471.72 780.62 472.21 780.74 472.69 780.85 473.18 780.97 473.66" stroke="#000" stroke-width="2.12" stroke-dasharray="9 3.4" stroke-dashoffset="0.00"/>
<path d="M781.91 477.01 782.06 477.49 782.24 477.96 782.44 478.43 782.68 478.89 782.97 479.35 783.31 479.79 783.69 480.16 784.10 480.39 784.52 480.42 784.93 480.23 785.34 479.89 785.73 479.50 786.11 479.13" stroke="#000" stroke-width="2.12" stroke-dasharray="9 3.4" stroke-dashoffset="0.00"/>
<path d="M788.47 481.34 788.68 481.83 788.92 482.31 789.19 482.74 789.52 483.11 789.90 483.40 790.32 483.56 790.76 483.56 791.20 483.42 791.61 483.16 791.98 482.81 792.32 482.41 792.64 481.97 792.97 481.51 793.30 481.07 793.65 480.69 794.01 480.42 794.39 480.30 794.78 480.32 795.17 480.47 795.56 480.70 795.95 481.02 796.33 481.38 796.69 481.77 797.04 482.18 797.36 482.59 797.66 483.01 797.95 483.44 798.21 483.87 798.46 484.31 798.70 484.76 798.92 485.21 799.12 485.66 799.31 486.12 799.49 486.59 799.65 487.06 799.81 487.53 799.95 488.01 800.08 488.49 800.21 488.98 800.32 489.47 800.43 489.96 800.54 490.45 800.63 490.94 800.73 491.44 800.81 491.94 800.90 492.44 800.98 492.94 801.06 493.44 801.14 493.94 801.23 494.44 801.31 494.93 801.39 495.43 801.48 495.93 801.57 496.43 801.66 496.92 801.76 497.41 801.86 497.90 801.97 498.39 802.09 498.87 802.22 499.35 802.35 499.83 802.49 500.31 802.64 500.78 802.80 501.25 802.96 501.71 803.12 502.18 803.29 502.64 803.47 503.10 803.64 503.57 803.82 504.03 804.00 504.49 804.17 504.95 804.35 505.41 804.53 505.87 804.70 506.33 804.87 506.79 805.04 507.25 805.20 507.72 805.36 508.18 805.51 508.65 805.66 509.12 805.80 509.59 805.94 510.06 806.08 510.54 806.21 511.01 806.34 511.49 806.46 511.97 806.58 512.45 806.70 512.93 806.81 513.41 806.92 513.89 807.03 514.38 807.13 514.86 807.22 515.35 807.32 515.84 807.41 516.33 807.50 516.82 807.58 517.31 807.66 517.80 807.74 518.29 807.82 518.79 807.89 519.28 807.96 519.78 808.02 520.27 808.09 520.77 808.15 521.27 808.21 521.77 808.26 522.27 808.31 522.77 808.36 523.27 808.41 523.77 808.46 524.27 808.50 524.78 808.54 525.28 808.58 525.78 808.62 526.29 808.66 526.79 808.69 527.30 808.72 527.80 808.75 528.31 808.78 528.82 808.81 529.32 808.83 529.83 808.86 530.34 808.88 530.85 808.90 531.35 808.92 531.86 808.94 532.37 808.96 532.88 808.97 533.39 808.99 533.90 809.01 534.40 809.02 534.91 809.03 535.42 809.04 535.93 809.06 536.44 809.07 536.95 809.08 537.45 809.09 537.96 809.10 538.47 809.11 538.98 809.12 539.48 809.13 539.99 809.14 540.50 809.15 541.00 809.15 541.51 809.16 542.02 809.17 542.52 809.18 543.02 809.19 543.53 809.20 544.03 809.22 544.53 809.23 545.04 809.24 545.54 809.25 546.04 809.27 546.54 809.28 547.04 809.30 547.54 809.31 548.04" stroke="#000" stroke-width="2.12" stroke-dasharray="9 3.4" stroke-dashoffset="0.00"/>
<path d="M809.46 551.50 809.48 551.99 809.51 552.48 809.54 552.97 809.57 553.45 809.60 553.94 809.64 554.43 809.68 554.91 809.72 555.39 809.76 555.87 809.80 556.35 809.84 556.83 809.89 557.31 809.94 557.79 809.99 558.26 810.05 558.73 810.10 559.21 810.16 559.68 810.23 560.15 810.29 560.61 810.36 561.08 810.43 561.54 810.50 562.01 810.58 562.47 810.66 562.93 810.74 563.39 810.82 563.85 810.91 564.32 811.00 564.79 811.08 565.27 811.17 565.75 811.26 566.24 811.35 566.73 811.45 567.23 811.54 567.75 811.63 568.27 811.72 568.81 811.81 569.35 811.90 569.91 811.99 570.49 812.08 571.08 812.16 571.68 812.25 572.31 812.33 572.95 812.41 573.60 812.49 574.24 812.58 574.85 812.69 575.41 812.81 575.88 812.95 576.26 813.12 576.52 813.31 576.63 813.54 576.58 813.80 576.37 814.08 576.01 814.37 575.55 814.65 575.02 814.92 574.44 815.18 573.85 815.41 573.28 815.64 572.77 815.84 572.34 816.03 572.03 816.20 571.87 816.35 571.89 816.48 572.07 816.61 572.39 816.72 572.81 816.82 573.31 816.93 573.86 817.03 574.41 817.13 574.97 817.24 575.51 817.34 576.06 817.45 576.60 817.56 577.13 817.67 577.66 817.78 578.19 817.89 578.71 818.00 579.23 818.11 579.74 818.22 580.25 818.33 580.76 818.44 581.27 818.55 581.77 818.66 582.26 818.77 582.76 818.88 583.25 818.99 583.74 819.10 584.23 819.20 584.71 819.31 585.20 819.41 585.68 819.52 586.15 819.62 586.63 819.72 587.11 819.82 587.58 819.92 588.05 820.01 588.52 820.10 588.99 820.19 589.45 820.28 589.92 820.37 590.39 820.45 590.85 820.53 591.31 820.61 591.78 820.69 592.24 820.76 592.70 820.83 593.17 820.90 593.63 820.96 594.09 821.02 594.55 821.08 595.02 821.13 595.48" stroke="#000" stroke-width="2.12" stroke-dasharray="9 3.4" stroke-dashoffset="0.00"/>
<path d="M828.99 595.31 829.10 594.85 829.22 594.39 829.33 593.94 829.44 593.49 829.56 593.04 829.67 592.60 829.78 592.15 829.89 591.71 830.00 591.26 830.11 590.81 830.22 590.36 830.33 589.91 830.44 589.45 830.55 588.99 830.67 588.53 830.78 588.06 830.89 587.59 831.00 587.12 831.12 586.64 831.23 586.16 831.34 585.67 831.45 585.19 831.57 584.70 831.68 584.21 831.79 583.71 831.90 583.22 832.02 582.72 832.13 582.22 832.24 581.72 832.35 581.22 832.46 580.71 832.57 580.21 832.68 579.70 832.79 579.19 832.90 578.69 833.00 578.18 833.11 577.67 833.22 577.16 833.32 576.65 833.42 576.15 833.53 575.64 833.63 575.13 833.73 574.63 833.83 574.12 833.92 573.62 834.02 573.11 834.12 572.61 834.21 572.11 834.30 571.61 834.39 571.12 834.48 570.62 834.57 570.13 834.66 569.64 834.74 569.15 834.82 568.67 834.90 568.19 834.98 567.71 835.06 567.24 835.14 566.76 835.21 566.30 835.28 565.83 835.35 565.37 835.41 564.91 835.48 564.46 835.54 564.01 835.60 563.57 835.66 563.13 835.71 562.69 835.77 562.26 835.82 561.82 835.87 561.37 835.91 560.92 835.96 560.46 836.00 559.99 836.04 559.50 836.08 559.00 836.12 558.48 836.16 557.94 836.20 557.37 836.23 556.79 836.26 556.17 836.30 555.52 836.33 554.85 836.36 554.14 836.39 553.41 836.43 552.67 836.46 551.93 836.50 551.20 836.54 550.50 836.59 549.82 836.64 549.19 836.70 548.62 836.76 548.11 836.83 547.68 836.92 547.34 837.01 547.09 837.11 546.96 837.22 546.94 837.35 547.06 837.49 547.31 837.63 547.68 837.79 548.13 837.94 548.65 838.10 549.21 838.25 549.77 838.39 550.32 838.52 550.85 838.65 551.37 838.77 551.88 838.89 552.37 839.00 552.86 839.11 553.34 839.21 553.82 839.31 554.29 839.41 554.77 839.50 555.24 839.59 555.71 839.69 556.19 839.78 556.67 839.87 557.15 839.96 557.63 840.04 558.11 840.13 558.59 840.22 559.07 840.30 559.56 840.38 560.05 840.47 560.53 840.55 561.02 840.63 561.51 840.71 562.00 840.80 562.50 840.88 562.99 840.96 563.48 841.04 563.97 841.12 564.47 841.20 564.96 841.28 565.46 841.36 565.96 841.44 566.45 841.52 566.95 841.60 567.45 841.68 567.95 841.76 568.45 841.84 568.94 841.92 569.44 842.00 569.94 842.08 570.44 842.16 570.94 842.25 571.44 842.33 571.94 842.41 572.44 842.49 572.94 842.57 573.44 842.65 573.94 842.73 574.44 842.81 574.94 842.89 575.44 842.97 575.94 843.05 576.44 843.13 576.94 843.21 577.44 843.29 577.94 843.37 578.44 843.45 578.93 843.53 579.43 843.60 579.93 843.68 580.43 843.76 580.92 843.83 581.42 843.91 581.92 843.98 582.41 844.05 582.91 844.13 583.40 844.20 583.89 844.27 584.39 844.34 584.88 844.41 585.37 844.48 585.86 844.55 586.35 844.61 586.84 844.68 587.33 844.74 587.81 844.81 588.30 844.87 588.79 844.93 589.27 844.99 589.76 845.05 590.24 845.11 590.72 845.17 591.20 845.23 591.68 845.28 592.16 845.34 592.63 845.39 593.11 845.44 593.59 845.49 594.06 845.54 594.53 845.60 595.01 845.65 595.48" stroke="#000" stroke-width="2.12" stroke-dasharray="9 3.4" stroke-dashoffset="11.85"/>
<path d="M850.69 595.17 850.79 594.73 850.91 594.28 851.06 593.80 851.22 593.28 851.40 592.72 851.61 592.13 851.83 591.54 852.06 590.97 852.29 590.44 852.53 589.97 852.77 589.57 853.01 589.28 853.24 589.10 853.45 589.06 853.65 589.17 853.84 589.42 854.00 589.77 854.16 590.20 854.30 590.69 854.43 591.20 854.55 591.73 854.67 592.28 854.78 592.83 854.89 593.38 854.99 593.91 855.10 594.42 855.20 594.93 855.30 595.42" stroke="#000" stroke-width="2.12"/>
<path d="M894.73 595.22 894.77 594.74 894.82 594.25 894.87 593.77 894.92 593.29 894.98 592.80 895.04 592.32 895.09 591.83 895.16 591.35 895.22 590.86 895.28 590.37 895.35 589.89 895.42 589.40 895.49 588.91 895.56 588.41 895.63 587.92 895.70 587.43 895.77 586.94 895.85 586.44 895.92 585.94 896.00 585.45 896.07 584.95 896.15 584.45 896.23 583.95 896.30 583.45 896.38 582.94 896.46 582.44 896.53 581.93 896.61 581.42 896.68 580.92 896.76 580.40 896.83 579.89 896.90 579.38 896.98 578.87 897.05 578.35 897.12 577.84 897.19 577.32 897.26 576.81 897.33 576.30 897.40 575.78 897.46 575.27 897.53 574.76 897.59 574.25 897.66 573.74 897.72 573.24 897.78 572.74 897.84 572.24 897.90 571.74 897.96 571.24 898.02 570.75 898.07 570.26 898.13 569.78 898.18 569.30 898.24 568.82 898.29 568.35 898.34 567.88 898.39 567.42 898.43 566.96 898.48 566.51 898.52 566.06 898.57 565.62 898.61 565.18 898.65 564.75 898.70 564.31 898.74 563.87 898.79 563.43 898.83 562.99 898.88 562.54 898.94 562.08 898.99 561.61 899.05 561.13 899.11 560.64 899.18 560.13 899.26 559.61 899.34 559.07 899.42 558.51 899.52 557.93 899.62 557.33 899.72 556.70 899.84 556.05 899.97 555.38 900.10 554.71 900.24 554.04 900.39 553.40 900.55 552.80 900.72 552.26 900.90 551.79 901.08 551.40 901.28 551.12 901.48 550.96 901.69 550.93 901.92 551.04 902.14 551.29 902.37 551.65 902.60 552.09 902.83 552.61 903.04 553.17 903.25 553.76 903.44 554.35 903.61 554.93 903.77 555.49 903.91 556.04 904.04 556.57 904.15 557.09 904.25 557.60 904.34 558.10 904.43 558.59 904.50 559.07 904.57 559.54 904.63 560.01 904.69 560.48 904.74 560.95 904.80 561.41 904.86 561.88 904.91 562.35 904.97 562.82 905.03 563.29 905.09 563.77 905.16 564.25 905.22 564.73 905.28 565.21 905.35 565.69 905.42 566.18 905.49 566.66 905.56 567.15 905.63 567.64 905.70 568.13 905.78 568.62 905.85 569.11 905.93 569.61 906.01 570.10 906.09 570.60 906.17 571.10 906.25 571.59 906.33 572.09 906.41 572.59 906.50 573.09 906.58 573.59 906.67 574.09 906.76 574.59 906.85 575.09 906.94 575.59 907.03 576.09 907.13 576.59 907.22 577.09 907.31 577.59 907.41 578.09 907.51 578.59 907.60 579.09 907.70 579.59 907.80 580.09 907.91 580.59 908.01 581.08 908.11 581.58 908.21 582.07 908.32 582.57 908.43 583.06 908.53 583.55 908.64 584.04 908.75 584.53 908.86 585.02 908.97 585.50 909.08 585.99 909.19 586.47 909.31 586.95 909.42 587.43 909.53 587.91 909.65 588.39 909.77 588.87 909.88 589.34 910.00 589.82 910.12 590.30 910.23 590.77 910.35 591.25 910.47 591.73 910.59 592.20 910.71 592.68 910.83 593.16 910.95 593.64 911.07 594.12 911.19 594.60 911.31 595.08" stroke="#000" stroke-width="2.12" stroke-dasharray="9 3.4" stroke-dashoffset="11.90"/>
<path d="M114.16 479.83 114.73 479.02 115.30 478.21 115.86 477.39 116.43 476.58 116.99 475.76 117.56 474.95 118.12 474.13 118.69 473.32 119.25 472.50 119.81 471.68 120.38 470.86 120.94 470.04 121.50 469.23 122.07 468.41 122.63 467.59 123.19 466.77 123.75 465.94 124.31 465.12 124.88 464.30 125.44 463.48 126.00 462.66 126.56 461.83 127.12 461.01 127.68 460.19 128.24 459.36 128.80 458.54 129.36 457.71 129.92 456.89 130.48 456.06 131.04 455.24 131.60 454.41 132.16 453.59 132.72 452.76 133.28 451.93 133.84 451.11 134.40 450.28 134.96 449.45 135.52 448.62 136.08 447.80 136.64 446.97 137.20 446.14 137.76 445.31 138.32 444.48 138.88 443.66 139.44 442.83 140.00 442.00 140.57 441.17 141.13 440.34 141.69 439.51 142.25 438.68 142.81 437.85 143.37 437.03 143.93 436.20 144.49 435.37 145.06 434.54 145.62 433.71 146.18 432.88 146.74 432.05 147.31 431.22 147.87 430.39 148.43 429.57 149.00 428.74 149.56 427.91 150.12 427.08 150.69 426.25 151.25 425.42 151.82 424.60 152.38 423.77 152.95 422.94 153.52 422.11 154.08 421.29 154.65 420.46 155.22 419.63 155.78 418.80 156.35 417.98 156.92 417.15 157.49 416.33 158.06 415.50 158.63 414.67 159.20 413.85 159.77 413.02 160.34 412.20 160.91 411.38 161.49 410.55 162.06 409.73 162.63 408.91 163.21 408.08 163.78 407.26 164.35 406.44 164.93 405.62 165.51 404.80 166.08 403.98 166.66 403.16 167.24 402.34 167.82 401.52 168.40 400.70 168.98 399.88 169.56 399.06 170.14 398.24 170.72 397.43 171.30 396.61 171.89 395.80 172.47 394.98 173.06 394.17 173.64 393.35 174.23 392.54 174.82 391.73 175.40 390.92 175.99 390.10 176.58 389.29 177.17 388.48 177.76 387.67 178.35 386.86 178.95 386.06 179.54 385.25 180.13 384.44 180.73 383.64 181.33 382.83 181.92 382.03 182.52 381.22 183.12 380.42 183.72 379.62 184.32 378.82 184.92 378.02 185.53 377.22 186.13 376.42 186.73 375.62 187.34 374.82 187.95 374.03 188.55 373.23 189.16 372.44 189.77 371.64 190.38 370.85 190.99 370.06 191.61 369.27 192.22 368.48 192.84 367.69 193.45 366.90 194.07 366.11 194.69 365.33 195.31 364.54 195.93 363.76 196.55 362.98 197.17 362.19 197.79 361.41 198.42 360.63 199.05 359.85 199.67 359.08 200.30 358.30 200.93 357.52 201.56 356.75 202.20 355.98 202.83 355.20 203.47 354.43 204.10 353.66 204.74 352.90 205.38 352.13 206.02 351.36 206.66 350.60 207.30 349.83 207.95 349.07 208.59 348.31 209.24 347.55 209.89 346.79 210.54 346.03 211.19 345.28 211.84 344.52 212.49 343.77 213.15 343.02 213.81 342.27 214.46 341.52 215.12 340.77 215.79 340.02 216.45 339.28 217.11 338.53 217.78 337.79 218.45 337.05 219.11 336.31 219.78 335.57 220.46 334.84 221.13 334.10 221.80 333.37 222.48 332.64 223.16 331.90 223.84 331.17 224.52 330.45 225.20 329.72 225.88 328.99 226.57 328.27 227.26 327.55 227.94 326.83 228.63 326.10 229.32 325.39 230.01 324.67 230.71 323.95 231.40 323.24 232.10 322.52 232.79 321.81 233.49 321.10 234.19 320.39 234.89 319.68 235.59 318.97 236.30 318.26 237.00 317.55 237.71 316.85 238.41 316.15 239.12 315.44 239.83 314.74 240.54 314.04 241.25 313.34 241.96 312.64 242.67 311.94 243.39 311.25 244.10 310.55 244.82 309.85 245.54 309.16 246.25 308.47 246.97 307.77 247.69 307.08 248.41 306.39 249.13 305.70 249.86 305.01 250.58 304.32 251.30 303.64 252.03 302.95 252.76 302.26 253.48 301.58 254.21 300.89 254.94 300.21 255.67 299.53 256.40 298.84 257.13 298.16 257.86 297.48 258.59 296.80 259.32 296.12 260.06 295.44 260.79 294.76 261.52 294.09 262.26 293.41 262.99 292.73 263.73 292.05 264.47 291.38 265.20 290.70 265.94 290.03 266.68 289.35 267.42 288.68 268.16 288.01 268.90 287.33 269.64 286.66 270.38 285.99 271.12 285.32 271.86 284.65 272.61 283.97 273.35 283.30 274.09 282.63 274.83 281.96 275.58 281.29 276.32 280.62 277.07 279.95 277.81 279.29 278.55 278.62 279.30 277.95 280.04 277.28 280.79 276.61 281.54 275.94 282.28 275.28 283.03 274.61 283.77 273.94 284.52 273.27 285.27 272.60 286.01 271.94 286.76 271.27 287.51 270.60 288.25 269.94 289.00 269.27 289.75 268.60 290.49 267.93 291.24 267.27 291.99 266.60 292.73 265.93 293.48 265.27 294.23 264.60 294.97 263.93 295.72 263.26 296.47 262.59 297.21 261.93 297.96 261.26 298.70 260.59 299.45 259.92 300.20 259.25 300.94 258.58 301.69 257.92 302.43 257.25 303.18 256.58 303.92 255.91 304.67 255.24 305.42 254.58 306.16 253.91 306.91 253.24 307.66 252.58 308.41 251.91 309.16 251.25 309.91 250.59 310.66 249.93 311.41 249.27 312.16 248.61 312.92 247.95 313.67 247.30 314.43 246.65 315.19 245.99 315.95 245.34 316.71 244.70 317.47 244.05 318.23 243.41 319.00 242.76 319.77 242.13 320.53 241.49 321.31 240.85 322.08 240.22 322.85 239.59 323.63 238.97 324.41 238.34 325.19 237.72 325.97 237.11 326.76 236.49 327.55 235.88 328.34 235.28 329.13 234.67 329.93 234.07 330.73 233.48 331.53 232.88 332.33 232.29 333.14 231.71 333.95 231.13 334.76 230.55 335.58 229.98 336.40 229.41 337.22 228.85 338.05 228.29 338.88 227.74 339.71 227.19 340.55 226.65 341.39 226.12 342.24 225.60 343.09 225.08 343.94 224.57 344.79 224.07 345.65 223.57 346.52 223.09 347.39 222.61 348.26 222.14 349.14 221.69 350.02 221.24 350.91 220.80 351.80 220.38 352.69 219.97 353.59 219.56 354.50 219.17 355.41 218.79 356.32 218.43 357.24 218.07 358.17 217.73 359.10 217.41 360.03 217.09 360.97 216.79 361.92 216.51 362.87 216.24 363.83 215.99 364.79 215.75 365.76 215.53 366.73 215.32 367.71 215.13 368.70 214.95 369.68 214.79 370.68 214.63 371.67 214.49 372.67 214.35 373.67 214.22 374.67 214.09 375.68 213.97 376.68 213.84 377.69 213.72 378.69 213.59 379.69 213.46 380.69 213.32 381.69 213.17 382.69 213.02 383.68 212.85 384.67 212.67 385.66 212.48 386.64 212.27 387.61 212.05 388.58 211.80 389.54 211.53 390.50 211.25 391.45 210.94 392.39 210.63 393.33 210.30 394.27 209.96 395.21 209.62 396.15 209.28 397.09 208.93 398.03 208.60 398.97 208.27 399.92 207.96 400.87 207.66 401.82 207.38 402.79 207.12 403.76 206.89 404.73 206.68 405.72 206.51 406.72 206.37 407.72 206.26 408.73 206.19 409.74 206.16 410.75 206.17 411.75 206.22 412.76 206.32 413.75 206.46 414.74 206.65 415.73 206.88 416.70 207.14 417.67 207.41 418.64 207.70 419.61 207.97 420.59 208.22 421.56 208.44 422.54 208.63 423.52 208.79 424.50 208.92 425.48 209.03 426.47 209.12 427.46 209.18 428.45 209.22 429.45 209.25 430.44 209.26 431.44 209.25 432.44 209.24 433.44 209.21 434.44 209.18 435.44 209.14 436.44 209.10 437.44 209.05 438.45 209.00 439.45 208.96 440.45 208.91 441.45 208.87 442.46 208.84 443.46 208.82 444.46 208.81 445.46 208.81 446.46 208.83 447.46 208.86 448.46 208.91 449.46 208.97 450.45 209.05 451.45 209.13 452.44 209.23 453.44 209.34 454.43 209.46 455.42 209.59 456.41 209.72 457.41 209.86 458.40 210.01 459.39 210.16 460.38 210.31 461.37 210.47 462.36 210.62 463.35 210.78 464.34 210.93 465.33 211.08 466.32 211.23 467.31 211.37 468.30 211.50 469.29 211.63 470.28 211.75 471.27 211.85 472.26 211.94 473.25 212.02 474.24 212.08 475.23 212.13 476.22 212.16 477.21 212.16 478.20 212.15 479.19 212.12 480.18 212.06 481.17 211.98 482.16 211.87 483.15 211.74 484.14 211.58 485.12 211.38 486.11 211.16 487.10 210.91 488.09 210.65 489.08 210.43 490.08 210.25 491.07 210.16 492.07 210.16 493.07 210.24 494.07 210.37 495.07 210.55 496.07 210.75 497.07 210.95 498.07 211.14 499.06 211.29 500.05 211.40 501.04 211.43 502.02 211.38 502.99 211.23 503.96 211.01 504.93 210.71 505.88 210.36 506.82 209.97 507.75 209.54 508.68 209.09 509.59 208.64 510.49 208.18 511.38 207.71 512.26 207.25 513.14 206.78 514.02 206.32 514.90 205.86 515.78 205.40 516.66 204.95 517.55 204.51 518.45 204.08 519.36 203.66 520.28 203.26 521.20 202.87 522.14 202.49 523.08 202.14 524.03 201.81 524.99 201.50 525.95 201.21 526.92 200.96 527.89 200.73 528.87 200.53 529.85 200.36 530.83 200.23 531.82 200.14 532.81 200.08 533.80 200.07 534.79 200.09 535.79 200.16 536.78 200.28 537.78 200.44 538.77 200.66 539.76 200.93 540.75 201.24 541.73 201.59 542.71 201.94 543.69 202.27 544.66 202.54 545.63 202.73 546.58 202.81 547.53 202.75 548.47 202.56 549.40 202.27 550.34 201.91 551.27 201.48 552.20 201.04 553.14 200.59 554.09 200.16 555.04 199.78 556.00 199.45 556.97 199.16 557.95 198.94 558.94 198.76 559.93 198.65 560.92 198.60 561.92 198.62 562.92 198.68 563.92 198.78 564.93 198.90 565.93 199.02 566.93 199.13 567.92 199.20 568.91 199.22 569.89 199.18 570.86 199.06 571.83 198.88 572.79 198.64 573.75 198.36 574.71 198.03 575.66 197.69 576.62 197.32 577.58 196.96 578.54 196.59 579.51 196.24 580.48 195.91 581.45 195.62 582.43 195.37 583.41 195.18 584.39 195.05 585.38 194.99 586.37 195.02 587.36 195.14 588.36 195.30 589.35 195.46 590.34 195.56 591.33 195.54 592.31 195.38 593.29 195.15 594.26 194.90 595.24 194.71 596.22 194.64 597.21 194.72 598.19 194.91 599.18 195.12 600.17 195.32 601.16 195.42 602.14 195.41 603.12 195.30 604.10 195.10 605.07 194.83 606.04 194.51 607.01 194.16 607.97 193.79 608.93 193.42 609.89 193.08 610.84 192.76 611.78 192.46 612.73 192.18 613.69 191.92 614.64 191.69 615.60 191.47 616.57 191.27 617.55 191.08 618.54 190.91 619.54 190.75 620.53 190.58 621.53 190.40 622.51 190.21 623.47 189.98 624.42 189.71 625.33 189.39 626.21 189.01 627.05 188.57 627.85 188.05 628.60 187.45 629.29 186.75 629.93 185.98 630.54 185.15 631.12 184.27 631.68 183.37 632.22 182.44 632.76 181.52 633.30 180.61 633.85 179.73 634.41 178.87 634.98 178.03 635.56 177.22 636.16 176.43 636.78 175.67 637.41 174.94 638.07 174.23 638.75 173.55 639.46 172.90 640.19 172.27 640.95 171.67 641.74 171.10 642.56 170.56 643.42 170.05 644.31 169.57 645.25 169.12 646.22 168.70 647.22 168.32 648.24 168.03 649.26 167.85 650.26 167.82 651.22 167.98 652.12 168.33 652.97 168.84 653.75 169.47 654.47 170.19 655.12 170.95 655.70 171.72 656.22 172.52 656.69 173.34 657.13 174.19 657.53 175.06 657.92 175.97 658.30 176.92 658.69 177.91 659.10 178.94 659.52 180.02 659.98 181.12 660.47 182.19 661.00 183.20 661.56 184.12 662.16 184.89 662.80 185.48 663.48 185.85 664.21 185.97 664.98 185.79 665.76 185.35 666.52 184.71 667.19 183.96 667.76 183.13 668.23 182.24 668.62 181.31 668.94 180.34 669.21 179.34 669.45 178.32 669.66 177.29 669.86 176.26 670.08 175.24 670.30 174.23 670.54 173.24 670.80 172.25 671.05 171.28 671.32 170.31 671.58 169.35 671.84 168.39 672.09 167.44 672.34 166.49 672.57 165.55 672.79 164.60 672.99 163.65 673.17 162.70 673.35 161.74 673.53 160.78 673.73 159.81 673.96 158.84 674.25 157.87 674.59 156.89 675.02 155.90 675.53 154.91 676.14 153.94 676.82 153.11 677.54 152.53 678.30 152.32 679.06 152.52 679.81 153.08 680.53 153.88 681.21 154.82 681.84 155.80 682.42 156.77 682.99 157.71 683.57 158.59 684.18 159.40 684.85 160.10 685.60 160.68 686.41 161.04 687.23 161.04 688.01 160.66 688.73 160.01 689.36 159.22 689.88 158.37 690.30 157.47 690.66 156.53 690.96 155.57 691.22 154.59 691.47 153.59 691.71 152.59 691.98 151.59 692.28 150.60 692.64 149.63 693.07 148.68 693.59 147.77 694.23 146.91 694.97 146.13 695.78 145.53 696.63 145.20 697.49 145.23 698.31 145.61 699.09 146.26 699.80 147.07 700.41 147.95 700.92 148.86 701.35 149.81 701.71 150.77 702.01 151.75 702.26 152.74 702.48 153.73 702.68 154.71 702.87 155.68 703.06 156.64 703.26 157.57 703.48 158.48 703.71 159.39 703.95 160.29 704.20 161.20 704.46 162.11 704.74 163.05 705.02 164.01 705.32 165.01 705.63 166.04 705.95 167.12 706.27 168.24 706.62 169.39 706.99 170.52 707.38 171.61 707.81 172.62 708.28 173.53 708.80 174.29 709.37 174.88 709.99 175.27 710.68 175.42 711.45 175.30 712.27 174.92 713.14 174.35 714.03 173.66 714.91 172.92 715.77 172.22 716.60 171.71 717.37 171.55 718.08 171.83 718.72 172.48 719.30 173.37 719.81 174.37 720.24 175.38 720.62 176.38 720.94 177.38 721.21 178.38 721.45 179.37 721.65 180.36 721.83 181.35 721.99 182.33 722.14 183.31 722.29 184.29 722.44 185.27 722.60 186.25 722.76 187.23 722.92 188.21 723.09 189.19 723.26 190.16 723.44 191.14 723.61 192.12 723.79 193.09 723.97 194.07 724.16 195.04 724.34 196.02 724.53 196.99 724.72 197.97 724.91 198.94 725.10 199.92 725.29 200.89 725.49 201.87 725.68 202.85 725.88 203.82 726.07 204.80 726.27 205.78 726.46 206.76 726.66 207.74 726.85 208.72 727.05 209.70 727.24 210.68 727.43 211.67 727.62 212.65 727.81 213.64 728.00 214.63 728.18 215.61 728.37 216.61 728.55 217.60 728.73 218.59 728.91 219.59 729.08 220.58 729.25 221.58 729.42 222.58 729.59 223.59 729.75 224.59 729.91 225.60 730.06 226.61 730.21 227.62 730.38 228.62 730.58 229.61 730.84 230.56 731.15 231.49 731.55 232.37 732.06 233.19 732.68 233.95 733.42 234.63 734.26 235.17 735.20 235.53 736.21 235.74 737.23 235.89 738.22 236.07 739.11 236.37 739.91 236.81 740.63 237.37 741.26 238.05 741.82 238.81 742.32 239.67 742.76 240.58 743.16 241.55 743.51 242.56 743.83 243.59 744.12 244.63 744.40 245.66 744.67 246.68 744.93 247.68 745.19 248.66 745.43 249.63 745.68 250.59 745.92 251.54 746.15 252.49 746.39 253.43 746.62 254.37 746.85 255.32 747.09 256.27 747.32 257.22 747.56 258.18 747.79 259.15 748.03 260.11 748.27 261.08 748.50 262.05 748.74 263.02 748.98 264.00 749.22 264.98 749.46 265.95 749.71 266.93 749.95 267.91 750.19 268.89 750.44 269.87 750.68 270.85 750.93 271.83 751.17 272.80 751.42 273.78 751.67 274.75 751.92 275.72 752.18 276.69 752.44 277.65 752.71 278.61 752.99 279.56 753.28 280.51 753.59 281.45 753.92 282.38 754.27 283.31 754.65 284.22 755.05 285.13 755.47 286.02 755.93 286.90 756.42 287.77 756.95 288.63 757.51 289.47 758.11 290.31 758.73 291.13 759.34 291.96 759.92 292.80 760.45 293.65 760.94 294.53 761.37 295.43 761.75 296.34 762.10 297.27 762.40 298.21 762.67 299.16 762.92 300.13 763.13 301.10 763.32 302.09 763.49 303.08 763.64 304.08 763.79 305.08 763.92 306.09 764.05 307.10 764.18 308.10 764.31 309.11 764.44 310.11 764.59 311.11 764.75 312.11 764.93 313.10 765.13 314.08 765.36 315.05 765.61 316.01 765.89 316.96 766.22 317.89 766.57 318.82 766.95 319.73 767.35 320.64 767.76 321.54 768.19 322.43 768.62 323.33 769.05 324.22 769.47 325.12 769.88 326.03 770.28 326.94 770.65 327.86 770.99 328.79 771.31 329.73 771.60 330.68 771.87 331.64 772.12 332.60 772.36 333.57 772.58 334.55 772.79 335.52 772.99 336.50 773.18 337.48 773.36 338.46 773.53 339.44 773.69 340.42 773.84 341.41 773.99 342.40 774.13 343.39 774.27 344.38 774.40 345.37 774.54 346.36 774.66 347.35 774.79 348.34 774.91 349.33 775.04 350.33 775.17 351.32 775.29 352.31 775.42 353.31 775.56 354.30 775.69 355.29 775.83 356.28 775.98 357.28 776.13 358.27 776.29 359.25 776.46 360.24 776.64 361.23 776.82 362.21 777.01 363.20 777.21 364.18 777.41 365.16 777.62 366.15 777.83 367.13 778.04 368.11 778.26 369.08 778.48 370.06 778.70 371.04 778.92 372.02 779.13 372.99 779.35 373.97 779.57 374.94 779.78 375.92 779.99 376.89 780.19 377.86 780.39 378.83 780.58 379.81 780.77 380.78 780.95 381.75 781.13 382.73 781.29 383.70 781.45 384.68 781.60 385.66 781.73 386.64 781.86 387.63 781.98 388.62 782.08 389.62 782.17 390.62 782.25 391.62 782.33 392.63 782.39 393.64 782.45 394.66 782.50 395.67 782.56 396.69 782.61 397.71 782.66 398.73 782.72 399.75 782.78 400.76 782.85 401.77 782.92 402.79 783.01 403.79 783.10 404.80 783.21 405.79 783.34 406.79 783.48 407.77 783.64 408.75 783.82 409.73 784.02 410.69 784.25 411.65 784.50 412.59 784.78 413.53 785.09 414.45 785.42 415.37 785.79 416.27 786.20 417.16 786.63 418.03 787.09 418.90 787.56 419.77 788.03 420.64 788.50 421.51 788.95 422.40 789.38 423.29 789.78 424.20 790.16 425.13 790.49 426.06 790.79 427.01 791.05 427.97 791.26 428.93 791.44 429.91 791.58 430.90 791.69 431.89 791.78 432.89 791.85 433.89 791.91 434.89 791.95 435.90 791.99 436.91 792.04 437.92 792.08 438.92 792.14 439.93 792.20 440.93 792.26 441.93 792.33 442.94 792.40 443.94 792.48 444.94 792.57 445.93 792.65 446.93 792.75 447.93 792.84 448.92 792.95 449.92 793.05 450.91 793.16 451.91 793.27 452.90 793.39 453.89 793.50 454.88 793.63 455.87 793.75 456.86 793.88 457.85 794.01 458.84 794.14 459.83 794.27 460.82 794.41 461.81 794.54 462.80 794.68 463.79 794.82 464.78 794.96 465.77 795.10 466.76 795.25 467.74 795.39 468.73 795.53 469.72 795.68 470.71 795.82 471.70 795.96 472.69 796.10 473.68 796.25 474.67 796.39 475.66 796.53 476.65 796.67 477.64 796.80 478.63 796.94 479.62 797.07 480.61 797.20 481.60 797.33 482.59 797.46 483.59 797.58 484.58 797.70 485.57 797.82 486.57 797.94 487.56 798.05 488.56 798.16 489.55 798.26 490.55 798.36 491.54 798.45 492.54 798.55 493.54 798.65 494.53 798.76 495.53 798.88 496.52 799.02 497.52 799.19 498.51 799.39 499.49 799.62 500.47 799.90 501.45 800.23 502.42 800.61 503.38 801.04 504.34 801.54 505.28 802.10 506.14 802.70 506.72 803.32 506.84 803.93 506.42 804.49 505.64 804.93 504.68 805.24 503.65 805.45 502.59 805.60 501.52 805.71 500.45 805.82 499.40 805.98 498.41 806.19 497.47 806.47 496.58 806.81 495.72 807.18 494.86 807.58 493.97 807.99 493.04 808.43 492.08 808.89 491.10 809.39 490.15 809.94 489.22 810.53 488.37 811.19 487.59 811.93 486.93 812.74 486.40 813.61 486.06 814.46 486.07 815.22 486.54 815.90 487.33 816.54 488.28 817.15 489.23 817.78 490.02 818.45 490.49 819.18 490.48 819.98 490.11 820.81 489.56 821.65 489.07 822.44 488.87 823.15 489.13 823.75 489.74 824.22 490.53 824.58 491.40 824.84 492.35 825.01 493.36 825.11 494.42 825.16 495.50 825.19 496.61 825.20 497.73 825.21 498.84 825.24 499.93 825.31 501.01 825.41 502.06 825.56 503.09 825.77 504.09 826.05 505.05 826.41 505.98 826.85 506.82 827.35 507.39 827.90 507.48 828.45 507.05 828.95 506.29 829.34 505.36 829.60 504.36 829.76 503.32 829.85 502.25 829.89 501.17 829.92 500.11 829.97 499.08 830.05 498.10 830.18 497.17 830.36 496.26 830.55 495.32 830.76 494.32 830.96 493.21 831.13 491.97 831.29 490.64 831.45 489.29 831.62 488.01 831.83 486.87 832.08 485.96 832.39 485.34 832.77 485.10 833.25 485.30 833.82 485.89 834.49 486.69 835.27 487.51 836.14 488.20 837.05 488.74 837.91 489.24 838.64 489.82 839.17 490.53 839.54 491.37 839.78 492.31 839.91 493.33 839.97 494.39 839.99 495.49 840.01 496.58 840.04 497.66 840.10 498.71 840.19 499.74 840.30 500.75 840.43 501.74 840.58 502.72 840.74 503.69 840.90 504.66 841.08 505.62 841.25 506.58 841.42 507.55 841.58 508.53 841.74 509.52 841.89 510.52 842.03 511.52 842.16 512.53 842.29 513.54 842.41 514.55 842.52 515.56 842.62 516.57 842.72 517.58 842.81 518.58 842.90 519.58 842.97 520.57 843.04 521.55 843.11 522.51 843.17 523.47 843.22 524.41 843.27 525.34 843.32 526.26 843.37 527.18 843.42 528.09 843.48 529.01 843.55 529.94 843.64 530.89 843.74 531.85 843.85 532.83 843.99 533.84 844.15 534.89 844.34 535.97 844.56 537.08 844.82 538.25 845.10 539.46 845.42 540.66 845.76 541.70 846.10 542.42 846.43 542.67 846.74 542.39 847.04 541.69 847.31 540.67 847.58 539.43 847.83 538.09 848.07 536.75 848.30 535.50 848.53 534.40 848.75 533.40 848.97 532.48 849.19 531.59 849.40 530.70 849.62 529.78 849.84 528.79 850.06 527.69 850.29 526.47 850.52 525.17 850.76 523.83 850.99 522.51 851.24 521.23 851.48 520.05 851.73 519.00 851.98 518.14 852.23 517.50 852.48 517.13 852.74 517.07 852.99 517.35 853.24 517.94 853.49 518.79 853.72 519.82 853.95 520.99 854.15 522.24 854.33 523.51 854.49 524.75 854.63 525.94 854.75 527.08 854.86 528.18 854.96 529.23 855.06 530.26 855.16 531.25 855.26 532.21 855.38 533.14 855.52 534.05 855.68 534.95 855.87 535.83 856.08 536.69 856.34 537.55 856.64 538.40 856.98 539.25 857.37 540.10 857.83 540.96 858.34 541.82 858.88 542.71 859.43 543.63 859.93 544.61 860.39 545.60 860.87 546.54 861.40 547.39 862.01 548.06 862.62 548.44 863.13 548.39 863.52 547.93 863.82 547.15 864.05 546.18 864.25 545.12 864.44 544.07 864.62 543.01 864.80 541.97 864.96 540.92 865.12 539.89 865.26 538.86 865.40 537.83 865.54 536.81 865.66 535.79 865.78 534.77 865.90 533.76 866.00 532.75 866.11 531.75 866.20 530.75 866.29 529.75 866.38 528.75 866.46 527.76 866.53 526.77 866.60 525.78 866.67 524.79 866.73 523.81 866.79 522.82 866.85 521.84 866.90 520.86 866.96 519.87 867.00 518.89 867.05 517.91 867.09 516.93 867.14 515.95 867.18 514.96 867.22 513.98 867.25 513.00 867.29 512.01 867.33 511.03 867.37 510.04 867.40 509.05 867.44 508.06 867.48 507.07 867.52 506.07 867.56 505.07 867.60 504.07 867.64 503.06 867.69 502.06 867.73 501.05 867.78 500.03 867.84 499.01 867.89 497.99 867.95 496.96 868.01 495.93 868.07 494.89 868.14 493.85 868.21 492.81 868.28 491.77 868.36 490.73 868.43 489.70 868.51 488.66 868.59 487.63 868.66 486.60 868.74 485.58 868.82 484.56 868.90 483.55 868.98 482.55 869.05 481.56 869.13 480.58 869.20 479.61 869.27 478.66 869.34 477.72 869.41 476.79 869.47 475.88 869.53 474.98 869.59 474.10 869.64 473.23 869.70 472.37 869.75 471.51 869.81 470.64 869.87 469.76 869.93 468.87 870.01 467.95 870.08 467.00 870.17 466.02 870.27 464.99 870.38 463.93 870.50 462.81 870.64 461.63 870.80 460.39 870.97 459.08 871.16 457.71 871.37 456.35 871.60 455.11 871.86 454.08 872.14 453.35 872.45 453.03 872.80 453.19 873.16 453.80 873.53 454.74 873.90 455.90 874.25 457.17 874.57 458.45 874.85 459.66 875.10 460.82 875.32 461.92 875.51 462.97 875.67 463.98 875.82 464.96 875.94 465.91 876.05 466.83 876.15 467.73 876.24 468.63 876.33 469.51 876.41 470.40 876.49 471.29 876.58 472.20 876.67 473.12 876.77 474.05 876.87 475.00 876.98 475.97 877.10 476.94 877.22 477.93 877.34 478.92 877.47 479.93 877.60 480.94 877.73 481.96 877.87 482.98 878.01 484.01 878.15 485.04 878.29 486.07 878.44 487.10 878.59 488.14 878.73 489.17 878.88 490.20 879.03 491.22 879.18 492.24 879.32 493.26 879.47 494.26 879.61 495.26 879.76 496.25 879.90 497.23 880.04 498.20 880.17 499.16 880.31 500.10 880.44 501.03 880.56 501.94 880.68 502.83 880.81 503.72 880.93 504.61 881.06 505.51 881.19 506.42 881.34 507.37 881.51 508.35 881.69 509.37 881.89 510.45 882.12 511.59 882.37 512.81 882.66 514.09 882.97 515.34 883.32 516.39 883.70 517.09 884.12 517.28 884.57 516.87 885.02 516.05 885.43 515.02 885.78 513.99 886.08 512.96 886.32 511.95 886.51 510.94 886.67 509.94 886.80 508.94 886.90 507.95 886.98 506.96 887.06 505.97 887.12 504.99 887.19 504.00 887.26 503.01 887.33 502.02 887.40 501.03 887.48 500.04 887.55 499.05 887.63 498.06 887.71 497.07 887.79 496.07 887.87 495.08 887.96 494.08 888.04 493.09 888.12 492.09 888.21 491.09 888.30 490.10 888.39 489.10 888.48 488.10 888.56 487.10 888.66 486.11 888.75 485.11 888.84 484.11 888.93 483.11 889.03 482.11 889.12 481.11 889.21 480.11 889.31 479.11 889.40 478.11 889.50 477.11 889.59 476.11 889.69 475.11 889.78 474.11 889.88 473.11 889.98 472.11 890.07 471.11 890.17 470.11 890.26 469.11 890.36 468.11 890.45 467.11 890.55 466.11 890.64 465.12 890.74 464.12 890.83 463.12 890.92 462.12 891.01 461.13 891.10 460.13 891.19 459.14 891.28 458.14 891.37 457.15 891.46 456.16 891.55 455.17 891.63 454.17 891.72 453.18 891.80 452.19 891.89 451.20 891.97 450.22 892.05 449.23 892.13 448.24 892.21 447.25 892.29 446.27 892.37 445.28 892.45 444.29 892.53 443.31 892.61 442.32 892.69 441.33 892.78 440.34 892.86 439.35 892.94 438.37 893.03 437.38 893.12 436.39 893.20 435.40 893.29 434.40 893.38 433.41 893.48 432.42 893.57 431.42 893.67 430.42 893.77 429.43 893.87 428.43 893.98 427.42 894.08 426.42 894.19 425.42 894.31 424.41 894.42 423.40 894.54 422.39 894.67 421.38 894.80 420.36 894.93 419.34 895.06 418.32 895.20 417.30 895.34 416.28 895.49 415.25 895.64 414.22 895.80 413.18 895.97 412.15 896.17 411.17 896.45 410.28 896.84 409.54 897.38 409.00 898.09 408.70 899.01 408.70 900.06 408.99 901.05 409.52 901.82 410.24 902.35 411.10 902.71 412.07 902.95 413.11 903.11 414.18 903.27 415.24 903.45 416.27 903.66 417.27 903.89 418.25 904.14 419.20 904.40 420.15 904.66 421.09 904.92 422.02 905.18 422.97 905.43 423.92 905.67 424.88 905.91 425.85 906.14 426.82 906.38 427.80 906.62 428.77 906.87 429.75 907.13 430.73 907.40 431.70 907.69 432.66 908.01 433.62 908.34 434.56 908.71 435.49 909.11 436.40 909.55 437.30 910.02 438.17 910.54 439.02 911.11 439.84 911.73 440.64 912.40 441.40" stroke="#000" stroke-width="2.12"/>
</g>
<rect x="114.1" y="120.7" width="798.4" height="473.3" fill="none" stroke="#7d7d7d" stroke-width="1.5"/>
<path d="M114.1 594.0 H106.3 M114.1 584.5 H109.9 M114.1 575.1 H109.9 M114.1 565.6 H109.9 M114.1 556.1 H109.9 M114.1 546.7 H106.3 M114.1 537.2 H109.9 M114.1 527.7 H109.9 M114.1 518.3 H109.9 M114.1 508.8 H109.9 M114.1 499.3 H106.3 M114.1 489.9 H109.9 M114.1 480.4 H109.9 M114.1 470.9 H109.9 M114.1 461.5 H109.9 M114.1 452.0 H106.3 M114.1 442.5 H109.9 M114.1 433.1 H109.9 M114.1 423.6 H109.9 M114.1 414.1 H109.9 M114.1 404.7 H106.3 M114.1 395.2 H109.9 M114.1 385.7 H109.9 M114.1 376.3 H109.9 M114.1 366.8 H109.9 M114.1 357.4 H106.3 M114.1 347.9 H109.9 M114.1 338.4 H109.9 M114.1 329.0 H109.9 M114.1 319.5 H109.9 M114.1 310.0 H106.3 M114.1 300.6 H109.9 M114.1 291.1 H109.9 M114.1 281.6 H109.9 M114.1 272.2 H109.9 M114.1 262.7 H106.3 M114.1 253.2 H109.9 M114.1 243.8 H109.9 M114.1 234.3 H109.9 M114.1 224.8 H109.9 M114.1 215.4 H106.3 M114.1 205.9 H109.9 M114.1 196.4 H109.9 M114.1 187.0 H109.9 M114.1 177.5 H109.9 M114.1 168.0 H106.3 M114.1 158.6 H109.9 M114.1 149.1 H109.9 M114.1 139.6 H109.9 M114.1 130.2 H109.9 M114.1 120.7 H106.3 M912.5 594.0 H919.7 M912.5 554.6 H916.3 M912.5 515.1 H919.7 M912.5 475.7 H916.3 M912.5 436.2 H919.7 M912.5 396.8 H916.3 M912.5 357.4 H919.7 M912.5 317.9 H916.3 M912.5 278.5 H919.7 M912.5 239.0 H916.3 M912.5 199.6 H919.7 M912.5 160.1 H916.3 M912.5 120.7 H919.7 M114.1 594.0 V601.3 M300.1 594.0 V601.3 M486.1 594.0 V601.3 M566.3 594.0 V601.3 M832.4 594.0 V601.3 M912.5 594.0 V601.3" fill="none" stroke="#7d7d7d" stroke-width="1.4"/>
<rect x="118.8" y="126" width="209.2" height="73.6" fill="#fff" stroke="#4a4a4a" stroke-width="1.5"/>
<path d="M126.2 140.2 H172.2" stroke="#c62a1f" stroke-width="1.8"/>
<path d="M126.2 162.9 H172.2" stroke="#000" stroke-width="2.05"/>
<path d="M126.2 185.6 H172.2" stroke="#000" stroke-width="2.05" stroke-dasharray="8.7 3.9" stroke-dashoffset="5.7"/>
<g font-family="Liberation Sans, sans-serif" fill="#000" stroke="#000" stroke-width="0.25">
<g font-size="18.9">
<text x="187.2" y="147.2">Impedance</text>
<text x="187.2" y="169.7">on axis</text>
<text x="187.2" y="192.2">45° off axis</text>
</g>
<g font-size="17">
<text x="102.6" y="600.4" text-anchor="end">55</text>
<text x="102.6" y="553.1" text-anchor="end">60</text>
<text x="102.6" y="505.7" text-anchor="end">65</text>
<text x="102.6" y="458.4" text-anchor="end">70</text>
<text x="102.6" y="411.1" text-anchor="end">75</text>
<text x="102.6" y="363.8" text-anchor="end">80</text>
<text x="102.6" y="316.4" text-anchor="end">85</text>
<text x="102.6" y="269.1" text-anchor="end">90</text>
<text x="102.6" y="221.8" text-anchor="end">95</text>
<text x="102.6" y="174.4" text-anchor="end">100</text>
<text x="102.6" y="127.1" text-anchor="end">105</text>
<text x="923.5" y="600.6">0</text>
<text x="923.5" y="521.7">20</text>
<text x="923.5" y="442.8">40</text>
<text x="923.5" y="364.0">60</text>
<text x="923.5" y="285.1">80</text>
<text x="923.5" y="206.2">100</text>
<text x="923.5" y="127.3">120</text>
<text x="114.5" y="617.8" text-anchor="middle">20</text>
<text x="300.5" y="617.8" text-anchor="middle">100</text>
<text x="486.5" y="617.8" text-anchor="middle">500</text>
<text x="566.7" y="617.8" text-anchor="middle">1000</text>
<text x="832.8" y="617.8" text-anchor="middle">10000</text>
<text x="912.9" y="617.8" text-anchor="middle">20000</text>
</g>
<g font-size="22.85">
<text x="513" y="648.8" text-anchor="middle">Frequency (Hz)</text>
<text transform="translate(29.6 357.8) rotate(-90)" text-anchor="middle">SPL (dB) @ 2.83V, 1m, half space</text>
<text transform="translate(969.4 358.0) rotate(90)" text-anchor="middle">Impedance (Ohm)</text>
</g></g>
</svg>
</body></html>
